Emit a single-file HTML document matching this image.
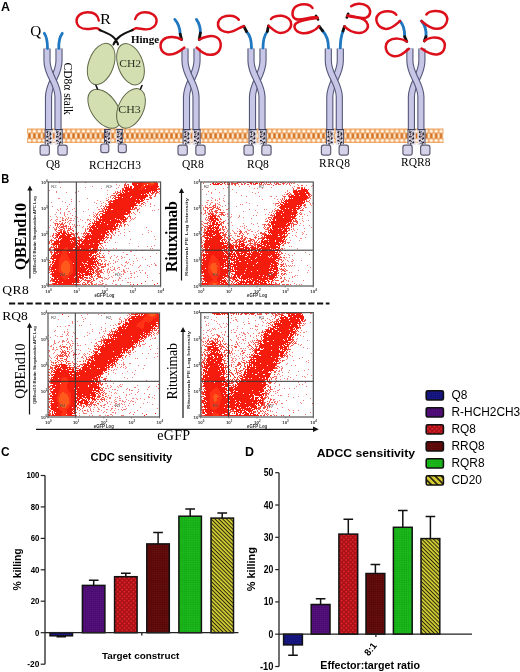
<!DOCTYPE html>
<html><head><meta charset="utf-8">
<style>
html,body{margin:0;padding:0;background:#fff;}
svg{display:block;filter:blur(0.35px);will-change:transform;}
text{font-family:"Liberation Sans",sans-serif;}
.sr{font-family:"Liberation Serif",serif;}
</style></head>
<body>
<svg width="520" height="672" viewBox="0 0 520 672">
<defs>
<pattern id="mem" x="27" y="128.6" width="4.9" height="14.5" patternUnits="userSpaceOnUse">
<rect width="4.9" height="14.5" fill="#efa460"/>
<rect x="-1.2" y="5.0" width="2.4" height="4.5" fill="#fde6c8"/><rect x="3.7" y="5.0" width="2.4" height="4.5" fill="#fde6c8"/>
<rect x="1.45" y="4.5" width="2.0" height="5.5" fill="#cf6c20"/>
<circle cx="2.45" cy="2.7" r="1.75" fill="#fff4e4"/>
<circle cx="2.45" cy="11.8" r="1.75" fill="#fff4e4"/>
</pattern>
<pattern id="pQ8" width="2" height="2" patternUnits="userSpaceOnUse"><rect width="2" height="2" fill="#141478"/><rect width="1" height="1" fill="#1c1c90"/></pattern>
<pattern id="pPU" width="2" height="2" patternUnits="userSpaceOnUse"><rect width="2" height="2" fill="#4c0c72"/><rect width="1" height="1" fill="#561480"/></pattern>
<pattern id="pRQ" width="3.2" height="3.2" patternUnits="userSpaceOnUse" patternTransform="rotate(45)"><rect width="3.2" height="3.2" fill="#a81218"/><rect width="1.6" height="1.6" fill="#e42428"/></pattern>
<pattern id="pRR" width="2.2" height="2.2" patternUnits="userSpaceOnUse"><rect width="2.2" height="2.2" fill="#580808"/><rect width="1.1" height="1.1" fill="#721212"/></pattern>
<pattern id="pGR" width="2.2" height="2.2" patternUnits="userSpaceOnUse"><rect width="2.2" height="2.2" fill="#16ac16"/><rect width="1.1" height="1.1" fill="#22c422"/></pattern>
<pattern id="pYE" width="2.75" height="2.75" patternUnits="userSpaceOnUse" patternTransform="rotate(45)"><rect width="2.75" height="2.75" fill="#d2ce36"/><rect width="2.75" height="1.0" fill="#2a2808"/></pattern>
<pattern id="pYL" width="4.4" height="4.4" patternUnits="userSpaceOnUse" patternTransform="translate(426 391) rotate(45)"><rect width="4.4" height="4.4" fill="#d8cc34"/><rect width="4.4" height="1.7" fill="#2a2608"/></pattern>
<filter id="sb" x="-5%" y="-5%" width="110%" height="110%"><feGaussianBlur stdDeviation="0.35"/></filter>
</defs>
<rect width="520" height="672" fill="#fff"/>
<text x="1.0" y="10.7" font-size="13" font-weight="bold" textLength="9" lengthAdjust="spacingAndGlyphs">A</text>
<rect x="27" y="128.5" width="416.5" height="14.5" fill="url(#mem)"/><path d="M59.0 48.5L59.0 61.0C59.0 75.0 48.5 83.0 48.5 97.0L48.5 129.0" fill="none" stroke="#545878" stroke-width="7.2"/><path d="M59.0 48.5L59.0 61.0C59.0 75.0 48.5 83.0 48.5 97.0L48.5 129.0" fill="none" stroke="#c8c6e6" stroke-width="5"/><path d="M47.0 48.5L47.0 61.0C47.0 75.0 58.0 83.0 58.0 97.0L58.0 129.0" fill="none" stroke="#545878" stroke-width="7.2"/><path d="M47.0 48.5L47.0 61.0C47.0 75.0 58.0 83.0 58.0 97.0L58.0 129.0" fill="none" stroke="#c8c6e6" stroke-width="5"/><rect x="44.8" y="129.3" width="8" height="15.9" fill="#e2e0f0" fill-opacity="0.85"/><path d="M45.2 129.3V144.2" stroke="#3c3c58" stroke-width="0.9"/><path d="M44.8 129.6H52.8" stroke="#3a4060" stroke-width="1.2"/><path d="M46.6 130.8L51.0 132.5L46.6 134.1L51.0 135.8L46.6 137.4L51.0 139.1L46.6 140.7L51.0 142.4L46.6 144.0" fill="none" stroke="#30304a" stroke-width="0.9" stroke-dasharray="1.1 0.9"/><circle cx="47.2" cy="132.2" r="0.9" fill="#1a1a2a"/><circle cx="50.6" cy="134.0" r="0.9" fill="#1a1a2a"/><circle cx="47.2" cy="136.4" r="0.9" fill="#1a1a2a"/><circle cx="50.6" cy="138.2" r="0.9" fill="#1a1a2a"/><circle cx="47.2" cy="140.6" r="0.9" fill="#1a1a2a"/><circle cx="50.6" cy="142.4" r="0.9" fill="#1a1a2a"/><path d="M48.0 142.7V145.2" stroke="#333" stroke-width="1"/><rect x="54.6" y="129.3" width="8" height="15.9" fill="#e2e0f0" fill-opacity="0.85"/><path d="M62.2 129.3V144.2" stroke="#3c3c58" stroke-width="0.9"/><path d="M54.6 129.6H62.6" stroke="#3a4060" stroke-width="1.2"/><path d="M56.4 130.8L60.8 132.5L56.4 134.1L60.8 135.8L56.4 137.4L60.8 139.1L56.4 140.7L60.8 142.4L56.4 144.0" fill="none" stroke="#30304a" stroke-width="0.9" stroke-dasharray="1.1 0.9"/><circle cx="57.0" cy="132.2" r="0.9" fill="#1a1a2a"/><circle cx="60.4" cy="134.0" r="0.9" fill="#1a1a2a"/><circle cx="57.0" cy="136.4" r="0.9" fill="#1a1a2a"/><circle cx="60.4" cy="138.2" r="0.9" fill="#1a1a2a"/><circle cx="57.0" cy="140.6" r="0.9" fill="#1a1a2a"/><circle cx="60.4" cy="142.4" r="0.9" fill="#1a1a2a"/><path d="M59.4 142.7V145.2" stroke="#333" stroke-width="1"/><rect x="40.1" y="145.2" width="9.3" height="10" rx="2.2" fill="#d6d2ea" stroke="#5e5e74" stroke-width="1.2"/><rect x="57.9" y="145.2" width="9.3" height="10" rx="2.2" fill="#d6d2ea" stroke="#5e5e74" stroke-width="1.2"/><path d="M47.5 48.5C47.5 42 46.8 37 44.3 33.3M58.8 48.5C58.6 42 59.5 37 62.3 33.3" fill="none" stroke="#1f78c0" stroke-width="2.8" stroke-linecap="round"/><text class="sr" x="30.3" y="36.0" font-size="14" textLength="11" lengthAdjust="spacingAndGlyphs">Q</text><text class="sr" transform="translate(64.3 62.5) rotate(90)" font-size="11.5">CD8&#945; stalk</text><text class="sr" x="46" y="167.5" font-size="11.5">Q8</text><ellipse cx="101.2" cy="64" rx="12.5" ry="21.5" transform="rotate(20 101.2 64)" fill="#d4dfb1" stroke="#5f6a4a" stroke-width="1"/><ellipse cx="130.5" cy="64.2" rx="12.5" ry="21.5" transform="rotate(-20 130.5 64.2)" fill="#d4dfb1" stroke="#5f6a4a" stroke-width="1"/><ellipse cx="104.4" cy="108.8" rx="13" ry="22" transform="rotate(-35 104.4 108.8)" fill="#d4dfb1" stroke="#5f6a4a" stroke-width="1"/><ellipse cx="131" cy="108.4" rx="12.5" ry="21" transform="rotate(25 131 108.4)" fill="#d4dfb1" stroke="#5f6a4a" stroke-width="1"/><path d="M96 85.5L97.5 89M142 85.5L140.5 89" fill="none" stroke="#111" stroke-width="1.6" stroke-linecap="round"/><text class="sr" x="119.2" y="66.8" font-size="10.8" fill="#2e3626" textLength="22" lengthAdjust="spacingAndGlyphs">CH2</text><text class="sr" x="118.2" y="113.2" font-size="10.8" fill="#2e3626" textLength="22.5" lengthAdjust="spacingAndGlyphs">CH3</text><path d="M98.8 20.5C98 16 94.5 12.3 88 12.3C81 12.3 76.5 16 76.5 21C76.8 26 81 29 87 29C91.5 29 95 27.6 97.5 28.3C98.5 28.7 99.2 29.3 99.7 30" fill="none" stroke="#dc0f1a" stroke-width="2.4" stroke-linecap="round"/><path d="M135.1 19C136.5 14.5 140 12.3 145 12.3C151 12.3 156.6 15.5 156.6 20.7C156.6 25.5 152 29.4 146.4 29.4C142 29.4 138.5 27.8 135.5 28.3C134.3 28.6 133.4 29.3 132.6 30" fill="none" stroke="#dc0f1a" stroke-width="2.4" stroke-linecap="round"/><path d="M99.7 30C104 32 108.5 33.5 112 36C115 38.3 117 40.5 118 44.5M132.6 30C128 32 124 33.5 120.5 35.8C117.3 38 115 40.5 113.5 44.5" fill="none" stroke="#111" stroke-width="2.1" stroke-linecap="round"/><text class="sr" x="100" y="23.5" font-size="15" textLength="11" lengthAdjust="spacingAndGlyphs">R</text><text class="sr" x="131" y="43.1" font-size="10.6" font-weight="bold" textLength="28.1" lengthAdjust="spacingAndGlyphs">Hinge</text><rect x="104.0" y="129.3" width="6.5" height="14.7" fill="#e2e0f0" fill-opacity="0.85"/><path d="M104.5 129.3V143.0" stroke="#3c3c58" stroke-width="0.9"/><path d="M104.0 129.6H110.5" stroke="#3a4060" stroke-width="1.2"/><path d="M105.1 130.8L109.5 132.5L105.1 134.1L109.5 135.8L105.1 137.4L109.5 139.1L105.1 140.7L109.5 142.4L105.1 144.0" fill="none" stroke="#30304a" stroke-width="0.9" stroke-dasharray="1.1 0.9"/><circle cx="105.7" cy="132.2" r="0.9" fill="#1a1a2a"/><circle cx="109.1" cy="134.0" r="0.9" fill="#1a1a2a"/><circle cx="105.7" cy="136.4" r="0.9" fill="#1a1a2a"/><circle cx="109.1" cy="138.2" r="0.9" fill="#1a1a2a"/><circle cx="105.7" cy="140.6" r="0.9" fill="#1a1a2a"/><circle cx="109.1" cy="142.4" r="0.9" fill="#1a1a2a"/><path d="M106.5 141.5V144.0" stroke="#333" stroke-width="1"/><rect x="116.2" y="129.3" width="6.5" height="14.7" fill="#e2e0f0" fill-opacity="0.85"/><path d="M122.3 129.3V143.0" stroke="#3c3c58" stroke-width="0.9"/><path d="M116.2 129.6H122.8" stroke="#3a4060" stroke-width="1.2"/><path d="M117.3 130.8L121.7 132.5L117.3 134.1L121.7 135.8L117.3 137.4L121.7 139.1L117.3 140.7L121.7 142.4L117.3 144.0" fill="none" stroke="#30304a" stroke-width="0.9" stroke-dasharray="1.1 0.9"/><circle cx="117.9" cy="132.2" r="0.9" fill="#1a1a2a"/><circle cx="121.3" cy="134.0" r="0.9" fill="#1a1a2a"/><circle cx="117.9" cy="136.4" r="0.9" fill="#1a1a2a"/><circle cx="121.3" cy="138.2" r="0.9" fill="#1a1a2a"/><circle cx="117.9" cy="140.6" r="0.9" fill="#1a1a2a"/><circle cx="121.3" cy="142.4" r="0.9" fill="#1a1a2a"/><path d="M120.3 141.5V144.0" stroke="#333" stroke-width="1"/><rect x="100.8" y="144.0" width="8" height="8.7" rx="2.2" fill="#d6d2ea" stroke="#5e5e74" stroke-width="1.2"/><rect x="118.3" y="144.0" width="8" height="8.7" rx="2.2" fill="#d6d2ea" stroke="#5e5e74" stroke-width="1.2"/><text class="sr" x="89" y="169" font-size="11.5" textLength="52">RCH2CH3</text><path d="M197.0 48.5L197.0 61.0C197.0 75.0 186.5 83.0 186.5 97.0L186.5 129.0" fill="none" stroke="#545878" stroke-width="7.2"/><path d="M197.0 48.5L197.0 61.0C197.0 75.0 186.5 83.0 186.5 97.0L186.5 129.0" fill="none" stroke="#c8c6e6" stroke-width="5"/><path d="M185.0 48.5L185.0 61.0C185.0 75.0 196.0 83.0 196.0 97.0L196.0 129.0" fill="none" stroke="#545878" stroke-width="7.2"/><path d="M185.0 48.5L185.0 61.0C185.0 75.0 196.0 83.0 196.0 97.0L196.0 129.0" fill="none" stroke="#c8c6e6" stroke-width="5"/><rect x="182.7" y="129.3" width="8" height="15.9" fill="#e2e0f0" fill-opacity="0.85"/><path d="M183.1 129.3V144.2" stroke="#3c3c58" stroke-width="0.9"/><path d="M182.7 129.6H190.7" stroke="#3a4060" stroke-width="1.2"/><path d="M184.5 130.8L188.9 132.5L184.5 134.1L188.9 135.8L184.5 137.4L188.9 139.1L184.5 140.7L188.9 142.4L184.5 144.0" fill="none" stroke="#30304a" stroke-width="0.9" stroke-dasharray="1.1 0.9"/><circle cx="185.1" cy="132.2" r="0.9" fill="#1a1a2a"/><circle cx="188.5" cy="134.0" r="0.9" fill="#1a1a2a"/><circle cx="185.1" cy="136.4" r="0.9" fill="#1a1a2a"/><circle cx="188.5" cy="138.2" r="0.9" fill="#1a1a2a"/><circle cx="185.1" cy="140.6" r="0.9" fill="#1a1a2a"/><circle cx="188.5" cy="142.4" r="0.9" fill="#1a1a2a"/><path d="M185.9 142.7V145.2" stroke="#333" stroke-width="1"/><rect x="192.5" y="129.3" width="8" height="15.9" fill="#e2e0f0" fill-opacity="0.85"/><path d="M200.1 129.3V144.2" stroke="#3c3c58" stroke-width="0.9"/><path d="M192.5 129.6H200.5" stroke="#3a4060" stroke-width="1.2"/><path d="M194.3 130.8L198.7 132.5L194.3 134.1L198.7 135.8L194.3 137.4L198.7 139.1L194.3 140.7L198.7 142.4L194.3 144.0" fill="none" stroke="#30304a" stroke-width="0.9" stroke-dasharray="1.1 0.9"/><circle cx="194.9" cy="132.2" r="0.9" fill="#1a1a2a"/><circle cx="198.3" cy="134.0" r="0.9" fill="#1a1a2a"/><circle cx="194.9" cy="136.4" r="0.9" fill="#1a1a2a"/><circle cx="198.3" cy="138.2" r="0.9" fill="#1a1a2a"/><circle cx="194.9" cy="140.6" r="0.9" fill="#1a1a2a"/><circle cx="198.3" cy="142.4" r="0.9" fill="#1a1a2a"/><path d="M197.3 142.7V145.2" stroke="#333" stroke-width="1"/><rect x="178.0" y="145.2" width="9.3" height="10" rx="2.2" fill="#d6d2ea" stroke="#5e5e74" stroke-width="1.2"/><rect x="195.8" y="145.2" width="9.3" height="10" rx="2.2" fill="#d6d2ea" stroke="#5e5e74" stroke-width="1.2"/><path d="M174.8 19.4C178 23 180 28 180.2 34.2M196.4 19.4C199 23 200.5 28 200.4 32.8" fill="none" stroke="#1f78c0" stroke-width="2.8" stroke-linecap="round"/><path d="M180.2 34.2L181.6 39.6M200.4 32.8L199.2 39.6" fill="none" stroke="#111" stroke-width="2.8" stroke-linecap="round"/><path d="M181.6 39.6C177 37 168 35.5 163.5 39.5C158.5 44 160 52 167 54.2C174 56 180 51 184.3 47.6" fill="none" stroke="#dc0f1a" stroke-width="2.5" stroke-linecap="round"/><path d="M199.2 39.6C203 37 212 34.5 217 37.5C222.5 41 222 51 215 54C208 56.5 201 52 196.8 47.6" fill="none" stroke="#dc0f1a" stroke-width="2.5" stroke-linecap="round"/><text class="sr" x="182" y="168" font-size="11.5">QR8</text><path d="M263.0 48.5L263.0 61.0C263.0 75.0 252.5 83.0 252.5 97.0L252.5 129.0" fill="none" stroke="#545878" stroke-width="7.2"/><path d="M263.0 48.5L263.0 61.0C263.0 75.0 252.5 83.0 252.5 97.0L252.5 129.0" fill="none" stroke="#c8c6e6" stroke-width="5"/><path d="M251.0 48.5L251.0 61.0C251.0 75.0 262.0 83.0 262.0 97.0L262.0 129.0" fill="none" stroke="#545878" stroke-width="7.2"/><path d="M251.0 48.5L251.0 61.0C251.0 75.0 262.0 83.0 262.0 97.0L262.0 129.0" fill="none" stroke="#c8c6e6" stroke-width="5"/><rect x="248.7" y="129.3" width="8" height="15.9" fill="#e2e0f0" fill-opacity="0.85"/><path d="M249.1 129.3V144.2" stroke="#3c3c58" stroke-width="0.9"/><path d="M248.7 129.6H256.7" stroke="#3a4060" stroke-width="1.2"/><path d="M250.5 130.8L254.9 132.5L250.5 134.1L254.9 135.8L250.5 137.4L254.9 139.1L250.5 140.7L254.9 142.4L250.5 144.0" fill="none" stroke="#30304a" stroke-width="0.9" stroke-dasharray="1.1 0.9"/><circle cx="251.1" cy="132.2" r="0.9" fill="#1a1a2a"/><circle cx="254.5" cy="134.0" r="0.9" fill="#1a1a2a"/><circle cx="251.1" cy="136.4" r="0.9" fill="#1a1a2a"/><circle cx="254.5" cy="138.2" r="0.9" fill="#1a1a2a"/><circle cx="251.1" cy="140.6" r="0.9" fill="#1a1a2a"/><circle cx="254.5" cy="142.4" r="0.9" fill="#1a1a2a"/><path d="M251.9 142.7V145.2" stroke="#333" stroke-width="1"/><rect x="258.5" y="129.3" width="8" height="15.9" fill="#e2e0f0" fill-opacity="0.85"/><path d="M266.1 129.3V144.2" stroke="#3c3c58" stroke-width="0.9"/><path d="M258.5 129.6H266.5" stroke="#3a4060" stroke-width="1.2"/><path d="M260.3 130.8L264.7 132.5L260.3 134.1L264.7 135.8L260.3 137.4L264.7 139.1L260.3 140.7L264.7 142.4L260.3 144.0" fill="none" stroke="#30304a" stroke-width="0.9" stroke-dasharray="1.1 0.9"/><circle cx="260.9" cy="132.2" r="0.9" fill="#1a1a2a"/><circle cx="264.3" cy="134.0" r="0.9" fill="#1a1a2a"/><circle cx="260.9" cy="136.4" r="0.9" fill="#1a1a2a"/><circle cx="264.3" cy="138.2" r="0.9" fill="#1a1a2a"/><circle cx="260.9" cy="140.6" r="0.9" fill="#1a1a2a"/><circle cx="264.3" cy="142.4" r="0.9" fill="#1a1a2a"/><path d="M263.3 142.7V145.2" stroke="#333" stroke-width="1"/><rect x="244.0" y="145.2" width="9.3" height="10" rx="2.2" fill="#d6d2ea" stroke="#5e5e74" stroke-width="1.2"/><rect x="261.8" y="145.2" width="9.3" height="10" rx="2.2" fill="#d6d2ea" stroke="#5e5e74" stroke-width="1.2"/><path d="M251.5 48C251.5 41 250 35 246.5 31.5M263 48C263 41 264.5 35 267.3 31.5" fill="none" stroke="#1f78c0" stroke-width="2.8" stroke-linecap="round"/><path d="M246.5 31.5L243.8 26.2M267.3 31.5L268.5 25.8" fill="none" stroke="#111" stroke-width="2.8" stroke-linecap="round"/><path d="M238.8 19.8C236 15.5 231 15.2 226 16C220 17 217.5 21.5 218 25C218.5 29.5 223 32.3 228.5 32.2C234.5 32 238.5 27.5 243.8 26.2" fill="none" stroke="#dc0f1a" stroke-width="2.5" stroke-linecap="round"/><path d="M271 19C273.5 16 278 15.5 282 15.8C288 16.5 291.5 20.5 291.2 24.5C290.8 29.5 286 33 280.5 33C275.5 33 272 28.5 268.5 25.8" fill="none" stroke="#dc0f1a" stroke-width="2.5" stroke-linecap="round"/><text class="sr" x="247" y="168" font-size="11.5">RQ8</text><path d="M340.3 48.5L340.3 61.0C340.3 75.0 329.8 83.0 329.8 97.0L329.8 129.0" fill="none" stroke="#545878" stroke-width="7.2"/><path d="M340.3 48.5L340.3 61.0C340.3 75.0 329.8 83.0 329.8 97.0L329.8 129.0" fill="none" stroke="#c8c6e6" stroke-width="5"/><path d="M328.3 48.5L328.3 61.0C328.3 75.0 339.3 83.0 339.3 97.0L339.3 129.0" fill="none" stroke="#545878" stroke-width="7.2"/><path d="M328.3 48.5L328.3 61.0C328.3 75.0 339.3 83.0 339.3 97.0L339.3 129.0" fill="none" stroke="#c8c6e6" stroke-width="5"/><rect x="326.0" y="129.3" width="8" height="15.9" fill="#e2e0f0" fill-opacity="0.85"/><path d="M326.4 129.3V144.2" stroke="#3c3c58" stroke-width="0.9"/><path d="M326.0 129.6H334.0" stroke="#3a4060" stroke-width="1.2"/><path d="M327.8 130.8L332.2 132.5L327.8 134.1L332.2 135.8L327.8 137.4L332.2 139.1L327.8 140.7L332.2 142.4L327.8 144.0" fill="none" stroke="#30304a" stroke-width="0.9" stroke-dasharray="1.1 0.9"/><circle cx="328.4" cy="132.2" r="0.9" fill="#1a1a2a"/><circle cx="331.8" cy="134.0" r="0.9" fill="#1a1a2a"/><circle cx="328.4" cy="136.4" r="0.9" fill="#1a1a2a"/><circle cx="331.8" cy="138.2" r="0.9" fill="#1a1a2a"/><circle cx="328.4" cy="140.6" r="0.9" fill="#1a1a2a"/><circle cx="331.8" cy="142.4" r="0.9" fill="#1a1a2a"/><path d="M329.2 142.7V145.2" stroke="#333" stroke-width="1"/><rect x="335.8" y="129.3" width="8" height="15.9" fill="#e2e0f0" fill-opacity="0.85"/><path d="M343.4 129.3V144.2" stroke="#3c3c58" stroke-width="0.9"/><path d="M335.8 129.6H343.8" stroke="#3a4060" stroke-width="1.2"/><path d="M337.6 130.8L342.0 132.5L337.6 134.1L342.0 135.8L337.6 137.4L342.0 139.1L337.6 140.7L342.0 142.4L337.6 144.0" fill="none" stroke="#30304a" stroke-width="0.9" stroke-dasharray="1.1 0.9"/><circle cx="338.2" cy="132.2" r="0.9" fill="#1a1a2a"/><circle cx="341.6" cy="134.0" r="0.9" fill="#1a1a2a"/><circle cx="338.2" cy="136.4" r="0.9" fill="#1a1a2a"/><circle cx="341.6" cy="138.2" r="0.9" fill="#1a1a2a"/><circle cx="338.2" cy="140.6" r="0.9" fill="#1a1a2a"/><circle cx="341.6" cy="142.4" r="0.9" fill="#1a1a2a"/><path d="M340.6 142.7V145.2" stroke="#333" stroke-width="1"/><rect x="321.4" y="145.2" width="9.3" height="10" rx="2.2" fill="#d6d2ea" stroke="#5e5e74" stroke-width="1.2"/><rect x="339.1" y="145.2" width="9.3" height="10" rx="2.2" fill="#d6d2ea" stroke="#5e5e74" stroke-width="1.2"/><path d="M328.5 48C328.5 41 326.5 35 322.6 30.8M340.3 48C340.3 41 341.5 35 343 31" fill="none" stroke="#1f78c0" stroke-width="2.8" stroke-linecap="round"/><path d="M322.6 30.8L319 26.2M343 31L344.5 26.4" fill="none" stroke="#111" stroke-width="2.8" stroke-linecap="round"/><path d="M316 15.8L318 19.5M348.2 13.8L346.8 17.5" fill="none" stroke="#111" stroke-width="2.6" stroke-linecap="round"/><path d="M319 26.2C315 31 308 34 301.5 33C295 32 292.5 26 296.5 23C300.5 20 309 19 317.5 18" fill="none" stroke="#dc0f1a" stroke-width="2.5" stroke-linecap="round"/><path d="M317.5 17.5C311 15.5 301 21.5 295.5 19C291 16.5 291.5 8 298 5.3C304 3 310.5 4.5 312.5 8" fill="none" stroke="#dc0f1a" stroke-width="2.5" stroke-linecap="round"/><path d="M344.5 26.4C348 30 353 33 359.2 33C365 33 369 28.5 367.7 24.5C366.5 20.5 362 18 357 17.5C353 17 350 16.5 347.5 15.8" fill="none" stroke="#dc0f1a" stroke-width="2.5" stroke-linecap="round"/><path d="M347.5 15.8C353 15 360 19.5 366 17.7C370.5 16 372 10 367 6C362.5 2.5 355 3.3 351.2 6.2" fill="none" stroke="#dc0f1a" stroke-width="2.5" stroke-linecap="round"/><text class="sr" x="319" y="167" font-size="11.5" textLength="31">RRQ8</text><path d="M421.9 48.5L421.9 61.0C421.9 75.0 411.4 83.0 411.4 97.0L411.4 129.0" fill="none" stroke="#545878" stroke-width="7.2"/><path d="M421.9 48.5L421.9 61.0C421.9 75.0 411.4 83.0 411.4 97.0L411.4 129.0" fill="none" stroke="#c8c6e6" stroke-width="5"/><path d="M409.9 48.5L409.9 61.0C409.9 75.0 420.9 83.0 420.9 97.0L420.9 129.0" fill="none" stroke="#545878" stroke-width="7.2"/><path d="M409.9 48.5L409.9 61.0C409.9 75.0 420.9 83.0 420.9 97.0L420.9 129.0" fill="none" stroke="#c8c6e6" stroke-width="5"/><rect x="407.6" y="129.3" width="8" height="15.9" fill="#e2e0f0" fill-opacity="0.85"/><path d="M408.0 129.3V144.2" stroke="#3c3c58" stroke-width="0.9"/><path d="M407.6 129.6H415.6" stroke="#3a4060" stroke-width="1.2"/><path d="M409.4 130.8L413.8 132.5L409.4 134.1L413.8 135.8L409.4 137.4L413.8 139.1L409.4 140.7L413.8 142.4L409.4 144.0" fill="none" stroke="#30304a" stroke-width="0.9" stroke-dasharray="1.1 0.9"/><circle cx="410.0" cy="132.2" r="0.9" fill="#1a1a2a"/><circle cx="413.4" cy="134.0" r="0.9" fill="#1a1a2a"/><circle cx="410.0" cy="136.4" r="0.9" fill="#1a1a2a"/><circle cx="413.4" cy="138.2" r="0.9" fill="#1a1a2a"/><circle cx="410.0" cy="140.6" r="0.9" fill="#1a1a2a"/><circle cx="413.4" cy="142.4" r="0.9" fill="#1a1a2a"/><path d="M410.8 142.7V145.2" stroke="#333" stroke-width="1"/><rect x="417.4" y="129.3" width="8" height="15.9" fill="#e2e0f0" fill-opacity="0.85"/><path d="M425.0 129.3V144.2" stroke="#3c3c58" stroke-width="0.9"/><path d="M417.4 129.6H425.4" stroke="#3a4060" stroke-width="1.2"/><path d="M419.2 130.8L423.6 132.5L419.2 134.1L423.6 135.8L419.2 137.4L423.6 139.1L419.2 140.7L423.6 142.4L419.2 144.0" fill="none" stroke="#30304a" stroke-width="0.9" stroke-dasharray="1.1 0.9"/><circle cx="419.8" cy="132.2" r="0.9" fill="#1a1a2a"/><circle cx="423.2" cy="134.0" r="0.9" fill="#1a1a2a"/><circle cx="419.8" cy="136.4" r="0.9" fill="#1a1a2a"/><circle cx="423.2" cy="138.2" r="0.9" fill="#1a1a2a"/><circle cx="419.8" cy="140.6" r="0.9" fill="#1a1a2a"/><circle cx="423.2" cy="142.4" r="0.9" fill="#1a1a2a"/><path d="M422.2 142.7V145.2" stroke="#333" stroke-width="1"/><rect x="402.9" y="145.2" width="9.3" height="10" rx="2.2" fill="#d6d2ea" stroke="#5e5e74" stroke-width="1.2"/><rect x="420.6" y="145.2" width="9.3" height="10" rx="2.2" fill="#d6d2ea" stroke="#5e5e74" stroke-width="1.2"/><path d="M400 21C403.5 25 404.8 31 404.6 36.5M421.5 21C425 25 426.5 31 426 36.6" fill="none" stroke="#1f78c0" stroke-width="2.8" stroke-linecap="round"/><path d="M404.6 36.5L406.8 41.5M426 36.6L424.3 41" fill="none" stroke="#111" stroke-width="2.8" stroke-linecap="round"/><path d="M396.3 14.7C393 10.5 383 10 378.5 14.5C374 19 377 27 385 28.8C391 30 396.5 24 400 21" fill="none" stroke="#dc0f1a" stroke-width="2.5" stroke-linecap="round"/><path d="M406.8 41.5C402 38 393 37.5 388.5 41C384 45 385 54 393 56C399 57.5 404 53 408.8 48.8" fill="none" stroke="#dc0f1a" stroke-width="2.5" stroke-linecap="round"/><path d="M426.4 14.5C429 10.5 440 9.5 445 14C450 19 446 28 438 28.8C431 29.5 425 24 421.5 21" fill="none" stroke="#dc0f1a" stroke-width="2.5" stroke-linecap="round"/><path d="M424.3 41C428 37.5 437 36 442 39.5C447 43.5 445 53 438 54.3C431 55.5 426 52 421.5 48.6" fill="none" stroke="#dc0f1a" stroke-width="2.5" stroke-linecap="round"/><text class="sr" x="401" y="166" font-size="11.5" textLength="29.5">RQR8</text><g shape-rendering="crispEdges" filter="url(#sb)"><path d="M116 182.5h1m9 0h1M116 184.5h1M119 185.5h1M92 186.5h1m18 0h1M60 187.5h1m24 0h1m32 0h1M101 188.5h1m14 0h1M49 190.5h1m57 0h1M56 191.5h1m21 0h1m36 0h1M56 192.5h1m9 0h1m8 0h1M159 193.5h1M107 194.5h1M111 195.5h1M110 196.5h1m44 0h1M108 197.5h1m1 0h1M58 198.5h2m27 0h1m18 0h1M71 199.5h1M97 200.5h1m8 0h1M62 201.5h1m8 0h1m7 0h1m20 0h1m46 0h1M51 202.5h1m13 0h1m28 0h1m8 0h1M96 203.5h1m4 0h1m3 0h1m39 0h1m4 0h1M69 204.5h1m80 0h1M101 205.5h1m43 0h1m8 0h1M52 206.5h1m14 0h1m32 0h1m40 0h1m8 0h1M97 207.5h1M60 208.5h1m6 0h1m6 0h1m64 0h1M57 209.5h1m2 0h1m5 0h1m5 0h1m15 0h1m9 0h2m58 0h1M58 210.5h1m93 0h1m1 0h1M68 211.5h2m5 0h1m7 0h1m53 0h1M48 212.5h1m7 0h1m3 0h1m3 0h1m28 0h1m45 0h1M60 213.5h1m3 0h1m5 0h1m24 0h1m38 0h1M55 214.5h1m8 0h1m2 0h1m25 0h1m41 0h1M48 215.5h1m15 0h1m7 0h1m16 0h1M50 216.5h1m5 0h1m8 0h1m9 0h1m17 0h1M57 217.5h1m2 0h1m1 0h1m5 0h1m8 0h1m57 0h1M48 218.5h1m13 0h2m2 0h1m1 0h1m1 0h2m2 0h1m57 0h1m1 0h1M51 219.5h1m4 0h2m4 0h1m4 0h1m12 0h1m6 0h2m1 0h1m40 0h1m1 0h1M50 220.5h1m4 0h1m13 0h3m1 0h1m8 0h1m4 0h1m1 0h1m40 0h1M48 221.5h1m7 0h1m2 0h1m8 0h1m9 0h1m50 0h1M53 222.5h1m13 0h1m2 0h1m5 0h1m8 0h1M54 223.5h1m14 0h1M69 224.5h1m2 0h1m1 0h1m1 0h1m50 0h1M50 225.5h1m23 0h1m2 0h1m1 0h1m48 0h1M48 226.5h1m24 0h1m1 0h1m7 0h1m40 0h1M49 227.5h1m3 0h1m21 0h1m6 0h1m63 0h1M54 228.5h1m30 0h1M54 229.5h1m69 0h1M148 230.5h1M48 231.5h1m69 0h2m9 0h1m21 0h1M78 232.5h1m45 0h1m23 0h1M48 233.5h1m32 0h1m33 0h1m4 0h1M142 234.5h1M114 235.5h1m3 0h1m5 0h1M48 236.5h1m1 0h1m103 0h1M111 237.5h1M110 238.5h2M48 239.5h1m81 0h1m24 0h1M109 240.5h1M107 242.5h1m7 0h1M129 243.5h1M48 244.5h1M105 245.5h1m48 0h1M138 246.5h1m8 0h1m3 0h1M103 247.5h1M103 248.5h1m2 0h1m6 0h1m2 0h1m33 0h1m1 0h1M104 250.5h1m31 0h1m5 0h1M108 251.5h2m20 0h2M123 252.5h1M103 253.5h1m4 0h1m47 0h1M48 254.5h1m77 0h2M104 255.5h1m9 0h1m19 0h1M111 256.5h1m5 0h1m3 0h1m28 0h1M110 257.5h1m5 0h1m5 0h1m1 0h1m17 0h1M110 258.5h1m10 0h1m14 0h1M104 259.5h1m13 0h1m10 0h1m15 0h1M105 260.5h2m6 0h1m23 0h1M109 261.5h1m5 0h1m1 0h1m8 0h1m6 0h1M115 262.5h1m9 0h2m1 0h1M108 263.5h1m1 0h1m2 0h1m13 0h1m5 0h1m20 0h1M108 264.5h1m12 0h1m8 0h1m20 0h1m3 0h1M108 265.5h1m13 0h1m2 0h1m6 0h1m7 0h1m6 0h1m7 0h2M112 266.5h1m11 0h1m14 0h1m9 0h1M110 267.5h1m3 0h1m3 0h2m18 0h1M108 268.5h1m5 0h1m2 0h1m8 0h1m1 0h1M107 269.5h2m1 0h1m2 0h2m4 0h1m3 0h1M107 270.5h1m3 0h2m2 0h1m7 0h2m14 0h1m2 0h1M104 271.5h1m2 0h1m1 0h1m11 0h1m1 0h2m2 0h1m2 0h1m5 0h1M107 272.5h1m1 0h1m3 0h1m4 0h1m5 0h2m8 0h1m5 0h1m4 0h1M103 273.5h1m4 0h1m14 0h1m6 0h2m2 0h1m10 0h1m13 0h1M115 274.5h1m5 0h1m1 0h1M108 275.5h1m4 0h1m17 0h1m15 0h1M111 276.5h1m9 0h1m15 0h1M48 277.5h1m53 0h1m1 0h1m4 0h1m2 0h1m6 0h1m10 0h2m2 0h1m12 0h1M102 278.5h1m2 0h2m1 0h1m10 0h2m4 0h1m2 0h1M48 279.5h1m47 0h1m7 0h1m2 0h1m10 0h1M101 280.5h2m10 0h1m1 0h1m2 0h1m3 0h1m29 0h1M99 281.5h1m2 0h1m10 0h1M100 282.5h1m26 0h2m1 0h1M96 283.5h1m5 0h2m8 0h1M95 284.5h2m1 0h5m2 0h2m8 0h2m3 0h1" stroke="#ec5e58" stroke-opacity="0.8" fill="none"/><path d="M85 182.5h1m44 0h1M125 183.5h1M124 184.5h2m1 0h2M124 185.5h3m1 0h1M124 186.5h1M122 188.5h2m34 0h2M122 189.5h1m35 0h2M120 190.5h1m1 0h1M117 191.5h1m2 0h1m34 0h3m1 0h1M115 192.5h1m1 0h4m33 0h1m1 0h3M113 193.5h2m1 0h2m34 0h2m1 0h2M116 194.5h1m1 0h1m33 0h1m2 0h1M112 195.5h4m1 0h1m31 0h3m3 0h1M114 196.5h2m34 0h1m3 0h1M113 197.5h1m1 0h1m33 0h3M112 198.5h1m1 0h1m35 0h2M108 199.5h1m37 0h3M107 200.5h1m2 0h2M108 201.5h3m31 0h1M108 202.5h2m33 0h2M139 203.5h1m1 0h2M106 204.5h1m1 0h1m32 0h1m1 0h1M105 205.5h1m31 0h1m1 0h2M103 206.5h1m1 0h3M104 207.5h1m1 0h1m28 0h2M101 208.5h1m1 0h2m29 0h3M102 209.5h1m1 0h1m27 0h3m2 0h2M102 210.5h2m33 0h1M99 211.5h5M98 212.5h1m31 0h1m2 0h1M97 213.5h1m2 0h2m27 0h1m1 0h1M96 214.5h2m1 0h1m29 0h1M94 215.5h1m1 0h1m2 0h1m29 0h1M95 216.5h1m1 0h1m30 0h3M94 217.5h1m1 0h2m29 0h1m2 0h1M96 218.5h2m28 0h2m2 0h1M65 219.5h1m27 0h1m2 0h1m29 0h1M62 220.5h2m1 0h1m28 0h1m1 0h1m28 0h1M60 221.5h1m29 0h1m3 0h1m29 0h3M62 222.5h1m2 0h1m26 0h1m28 0h1m1 0h2M55 223.5h3m1 0h1m1 0h2m1 0h1m24 0h2m1 0h1m27 0h2m1 0h1M55 224.5h1m1 0h2m1 0h4m24 0h2m28 0h1m1 0h1m3 0h2M55 225.5h1m1 0h1m2 0h1m2 0h1m1 0h2m23 0h1m28 0h3m2 0h1M57 226.5h1m1 0h1m1 0h6m1 0h1m1 0h1m16 0h1m1 0h1m27 0h1m1 0h1m1 0h1M56 227.5h1m1 0h1m1 0h4m2 0h1m3 0h1m18 0h1m29 0h1M56 228.5h1m2 0h1m3 0h2m1 0h1m1 0h3m1 0h1m14 0h2m27 0h2M55 229.5h2m3 0h3m1 0h1m3 0h1m1 0h2m13 0h1m1 0h1m27 0h1m2 0h1M55 230.5h1m2 0h4m1 0h2m2 0h3m2 0h2m11 0h1m29 0h1M56 231.5h1m3 0h1m3 0h2m1 0h1m5 0h1m11 0h1m2 0h1m23 0h1M57 232.5h2m8 0h2m1 0h2m4 0h1m7 0h1m1 0h1m24 0h2m2 0h1M53 233.5h1m1 0h2m14 0h3m1 0h3m5 0h4m22 0h1m2 0h1M53 234.5h1m2 0h1m15 0h3m1 0h2m5 0h1m1 0h1m22 0h1m1 0h1m2 0h1M52 235.5h2m1 0h2m16 0h2m1 0h1m7 0h1m22 0h2m2 0h1M52 236.5h1m3 0h1m17 0h1m1 0h1m1 0h1m3 0h2m27 0h1M53 237.5h1m1 0h2m18 0h1m1 0h3m3 0h1m22 0h3m1 0h1M54 238.5h2m22 0h2m1 0h1m25 0h1M51 239.5h1m27 0h3m24 0h1M50 240.5h4m49 0h1m1 0h1M48 241.5h2m1 0h1m50 0h1m1 0h1M49 242.5h1m1 0h1m52 0h2M48 243.5h2m2 0h1m48 0h2M51 244.5h2m47 0h1M53 245.5h1m47 0h1M51 246.5h1m1 0h1m48 0h1M50 247.5h4m45 0h2M49 248.5h2m50 0h1M48 249.5h3m2 0h1m43 0h2m1 0h1M49 250.5h1m48 0h1m1 0h1M50 251.5h2m45 0h1m2 0h1M50 252.5h3m43 0h1m2 0h1M51 253.5h1m45 0h1m1 0h2M51 254.5h1m44 0h3M96 255.5h1m2 0h1m2 0h1M51 256.5h1m45 0h3m3 0h1M96 257.5h1m2 0h6M50 258.5h1M97 259.5h1m1 0h2M49 260.5h1m48 0h1m2 0h1M50 261.5h1m50 0h1m2 0h1M48 262.5h3m47 0h1M98 263.5h3m1 0h1m2 0h1M48 264.5h1m1 0h1m47 0h1m1 0h3m1 0h2m1 0h1M48 265.5h1m1 0h1m45 0h1m1 0h3m4 0h1M49 266.5h2m45 0h2m3 0h5M49 267.5h2m43 0h2m1 0h2m2 0h3M48 268.5h2m44 0h2m1 0h3M48 269.5h3m45 0h3m2 0h1m1 0h1M49 270.5h1m45 0h3m1 0h3M48 271.5h1m1 0h1m44 0h7M48 272.5h2m44 0h1m1 0h3m1 0h3M48 273.5h1m2 0h1m43 0h1m1 0h3M50 274.5h2m44 0h4M95 275.5h1m1 0h2m1 0h1M90 276.5h3m1 0h1m2 0h4M50 277.5h1m35 0h2m1 0h1m1 0h2m5 0h4M51 278.5h1m29 0h3m2 0h2m1 0h2m2 0h1m2 0h2M51 279.5h2m29 0h2m1 0h1m5 0h1m1 0h1M50 280.5h3m26 0h1m1 0h1m2 0h7m2 0h2M50 281.5h1m1 0h1m27 0h1m6 0h3m1 0h2m52 0h1M79 282.5h1m3 0h2m2 0h2m1 0h2M48 283.5h1m3 0h1m29 0h1m2 0h1m1 0h1m3 0h2M48 284.5h5m25 0h3m1 0h5m1 0h2m1 0h2m1 0h1m35 0h1" stroke="#f03a30" stroke-opacity="0.9" fill="none"/><path d="M59 182.5h1m72 0h13m10 0h2M132 183.5h11m12 0h3M132 184.5h5m1 0h4m13 0h3M133 185.5h9m5 0h2m4 0h5M126 186.5h1m1 0h1m1 0h2m2 0h7m4 0h14M124 187.5h5m1 0h2m2 0h7m3 0h14M125 188.5h7m1 0h7m3 0h2m1 0h11M123 189.5h1m1 0h15m2 0h16M123 190.5h34M122 191.5h1m1 0h4m1 0h22m1 0h1m1 0h1M122 192.5h2m1 0h24m1 0h1m1 0h2M120 193.5h2m1 0h23m1 0h2m2 0h1M119 194.5h22m1 0h2m1 0h2m2 0h1M118 195.5h30M118 196.5h1m1 0h11m1 0h16M116 197.5h6m1 0h7m1 0h15M115 198.5h1m2 0h27M115 199.5h21m1 0h2m1 0h3m1 0h1M113 200.5h27m1 0h3M111 201.5h31M110 202.5h1m2 0h22m1 0h4M109 203.5h28m1 0h1M109 204.5h27M109 205.5h28M108 206.5h26M107 207.5h24m1 0h2M106 208.5h1m1 0h23m1 0h1M105 209.5h6m2 0h19M105 210.5h1m1 0h23M105 211.5h26M103 212.5h23m1 0h3M102 213.5h1m2 0h24M102 214.5h26M102 215.5h22M100 216.5h25M100 217.5h26M98 218.5h1m1 0h1m1 0h13m1 0h8m1 0h1M98 219.5h19m1 0h1m1 0h6M99 220.5h11m1 0h9m1 0h1m1 0h2M95 221.5h6m1 0h19m1 0h2M94 222.5h1m1 0h8m1 0h16M93 223.5h7m1 0h15m1 0h1M93 224.5h1m1 0h12m1 0h7m1 0h2M92 225.5h23m1 0h2M91 226.5h4m1 0h21M90 227.5h23m1 0h2M90 228.5h1m1 0h5m1 0h18M89 229.5h3m1 0h22M89 230.5h19m2 0h2m1 0h1M61 231.5h1m1 0h1m25 0h17m1 0h2m1 0h2M59 232.5h3m1 0h3m25 0h18M58 233.5h2m1 0h6m1 0h1m18 0h3m1 0h16M57 234.5h3m2 0h3m1 0h6m15 0h2m1 0h1m1 0h9m1 0h3m1 0h2M57 235.5h2m1 0h6m1 0h4m15 0h19M57 236.5h1m1 0h13m13 0h20m1 0h1M57 237.5h1m1 0h11m2 0h3m9 0h20m1 0h1M58 238.5h3m1 0h14m9 0h5m1 0h14M56 239.5h1m1 0h1m2 0h15m6 0h1m1 0h4m1 0h9m1 0h3m1 0h1M56 240.5h3m1 0h10m1 0h1m1 0h3m1 0h5m1 0h20M54 241.5h19m1 0h3m1 0h2m1 0h19M54 242.5h17m1 0h4m1 0h1m1 0h1m2 0h18M53 243.5h6m1 0h20m1 0h12m1 0h4m1 0h2M53 244.5h24m1 0h5m1 0h5m1 0h9M54 245.5h1m1 0h1m1 0h20m1 0h20M55 246.5h2m1 0h17m1 0h22M54 247.5h1m1 0h1m1 0h8m2 0h30M54 248.5h10m4 0h5m2 0h5m1 0h10m2 0h5M54 249.5h10m4 0h21m1 0h1m1 0h5M54 250.5h9m5 0h29M54 251.5h1m1 0h6m5 0h30M54 252.5h8m5 0h2m1 0h26M54 253.5h4m1 0h3m5 0h22m1 0h4m1 0h1M53 254.5h3m1 0h4m6 0h25M52 255.5h9m7 0h24m1 0h3M52 256.5h9m7 0h21m1 0h1m1 0h2m1 0h1M51 257.5h1m1 0h7m9 0h21m1 0h3m1 0h1M51 258.5h9m9 0h28M52 259.5h2m2 0h3m11 0h26M53 260.5h6m12 0h22m1 0h1m1 0h1M52 261.5h2m1 0h4m13 0h15m1 0h10M52 262.5h7m13 0h10m1 0h13m1 0h1M52 263.5h1m1 0h5m13 0h1m1 0h9m1 0h1m2 0h7m1 0h1m1 0h1M51 264.5h1m1 0h6m13 0h15m1 0h9M52 265.5h7m14 0h11m1 0h6m1 0h1m2 0h1M52 266.5h7m14 0h7m1 0h14M51 267.5h8m14 0h12m1 0h6m1 0h1M51 268.5h8m14 0h15m1 0h4M51 269.5h4m1 0h2m15 0h14m1 0h6M51 270.5h1m1 0h5m15 0h13m1 0h2m1 0h1m1 0h2M51 271.5h8m14 0h19m1 0h1M52 272.5h1m1 0h5m14 0h5m1 0h10m1 0h1m1 0h2M52 273.5h8m12 0h8m1 0h2m2 0h7m1 0h1M52 274.5h8m11 0h10m1 0h11M52 275.5h9m9 0h8m1 0h5m1 0h3m1 0h1m1 0h1M52 276.5h9m8 0h6m1 0h5m1 0h2M54 277.5h8m6 0h6m1 0h8m1 0h2M52 278.5h1m1 0h3m1 0h5m4 0h1m1 0h10m1 0h1M53 279.5h11m2 0h13M53 280.5h2m1 0h2m1 0h20M53 281.5h26M55 282.5h7m1 0h13m1 0h2M53 283.5h4m1 0h14m1 0h1m2 0h1m64 0h1m15 0h1M53 284.5h25m55 0h1m3 0h1m16 0h1" stroke="#f61c0c" stroke-opacity="1.0" fill="none"/><path d="M145 182.5h5m3 0h2M143 183.5h7m4 0h1M142 184.5h5m1 0h7M142 185.5h2m1 0h2m2 0h4M141 186.5h4M141 187.5h3M140 188.5h3M140 189.5h2M66 247.5h2M64 248.5h4M64 249.5h4M63 250.5h5M62 251.5h5M62 252.5h5M62 253.5h5M61 254.5h6M61 255.5h7M61 256.5h7M60 257.5h9M60 258.5h9M59 259.5h11M59 260.5h6m1 0h5M59 261.5h5m4 0h4M59 262.5h4m6 0h3M59 263.5h3m7 0h3M59 264.5h3m8 0h2M59 265.5h2m9 0h3M59 266.5h2m9 0h3M59 267.5h2m9 0h3M59 268.5h2m9 0h3M58 269.5h3m9 0h3M58 270.5h3m9 0h3M59 271.5h3m8 0h3M59 272.5h4m6 0h4M60 273.5h3m6 0h3M60 274.5h4m4 0h3M61 275.5h4m1 0h4M61 276.5h8M62 277.5h6M63 278.5h4M64 279.5h2" stroke="#ff3212" stroke-opacity="1.0" fill="none"/><path d="M150 182.5h3M150 183.5h4M65 260.5h1M64 261.5h4M63 262.5h6M62 263.5h7M62 264.5h8M61 265.5h9M61 266.5h9M61 267.5h9M61 268.5h9M61 269.5h9M61 270.5h9M62 271.5h8M63 272.5h6M63 273.5h6M64 274.5h4M65 275.5h1" stroke="#ff5a1c" stroke-opacity="1.0" fill="none"/></g><path d="M76.3 182.0V286.0M48.3 250.2H160.6" stroke="#333" stroke-width="1" fill="none"/><rect x="48.3" y="182.0" width="112.3" height="104.0" fill="none" stroke="#555" stroke-width="1.2"/><g font-size="4.2" fill="#555"><text x="51.3" y="188.0">R2</text><text x="106.3" y="188.0">R2</text><text x="60.3" y="276.0">R4</text><text x="115.3" y="276.0">R3</text></g><g font-size="4.4" fill="#333" font-weight="bold"><text x="45.3" y="292.6">10<tspan dy="-1.6" font-size="2.9">0</tspan></text><text x="41.0" y="287.8">10<tspan dy="-1.6" font-size="2.9">0</tspan></text><line x1="48.3" y1="286.0" x2="48.3" y2="287.5" stroke="#555" stroke-width="0.6"/><line x1="46.8" y1="286.0" x2="48.3" y2="286.0" stroke="#555" stroke-width="0.6"/><text x="73.4" y="292.6">10<tspan dy="-1.6" font-size="2.9">1</tspan></text><text x="41.0" y="261.8">10<tspan dy="-1.6" font-size="2.9">1</tspan></text><line x1="76.4" y1="286.0" x2="76.4" y2="287.5" stroke="#555" stroke-width="0.6"/><line x1="46.8" y1="260.0" x2="48.3" y2="260.0" stroke="#555" stroke-width="0.6"/><text x="101.4" y="292.6">10<tspan dy="-1.6" font-size="2.9">2</tspan></text><text x="41.0" y="235.8">10<tspan dy="-1.6" font-size="2.9">2</tspan></text><line x1="104.4" y1="286.0" x2="104.4" y2="287.5" stroke="#555" stroke-width="0.6"/><line x1="46.8" y1="234.0" x2="48.3" y2="234.0" stroke="#555" stroke-width="0.6"/><text x="129.5" y="292.6">10<tspan dy="-1.6" font-size="2.9">3</tspan></text><text x="41.0" y="209.8">10<tspan dy="-1.6" font-size="2.9">3</tspan></text><line x1="132.5" y1="286.0" x2="132.5" y2="287.5" stroke="#555" stroke-width="0.6"/><line x1="46.8" y1="208.0" x2="48.3" y2="208.0" stroke="#555" stroke-width="0.6"/><text x="157.6" y="292.6">10<tspan dy="-1.6" font-size="2.9">4</tspan></text><text x="41.0" y="183.8">10<tspan dy="-1.6" font-size="2.9">4</tspan></text><line x1="160.6" y1="286.0" x2="160.6" y2="287.5" stroke="#555" stroke-width="0.6"/><line x1="46.8" y1="182.0" x2="48.3" y2="182.0" stroke="#555" stroke-width="0.6"/></g><text x="104.4" y="296.6" font-size="4.6" font-weight="bold" fill="#2a2a2a" text-anchor="middle" textLength="20" lengthAdjust="spacingAndGlyphs">eGFP Log</text><g shape-rendering="crispEdges" filter="url(#sb)"><path d="M292 182.5h1m1 0h1m4 0h1M293 183.5h2M297 184.5h1M290 185.5h1m7 0h1m7 0h1m5 0h1M239 186.5h1m9 0h1m44 0h1m16 0h1M206 187.5h1m20 0h1m43 0h1m20 0h1M223 188.5h1m30 0h1m2 0h1m4 0h1M202 189.5h1m12 0h1m16 0h1M287 190.5h1M208 191.5h1m78 0h1M211 192.5h1m7 0h1m16 0h1m15 0h1m5 0h1m26 0h1M211 193.5h1m43 0h1M206 194.5h1m77 0h1M224 195.5h1m16 0h1m40 0h1M246 196.5h1m12 0h1m10 0h2m4 0h1M211 197.5h1M212 198.5h1m6 0h1m3 0h1m50 0h1M215 199.5h1m3 0h1m42 0h1m14 0h1m2 0h1M207 200.5h2m2 0h1m3 0h1m1 0h1m5 0h1M224 201.5h1M206 202.5h2m3 0h2m6 0h1m26 0h1m62 0h1M210 203.5h1m4 0h1m1 0h1m10 0h1m20 0h1m23 0h1m1 0h1m34 0h1m1 0h1M207 204.5h1m2 0h1m7 0h2m20 0h1m1 0h1m32 0h1m34 0h1M202 205.5h1m2 0h1m14 0h1m4 0h1m31 0h1m17 0h1m35 0h1M205 206.5h1m16 0h1m13 0h1M203 207.5h1m102 0h1M203 208.5h1m24 0h1m46 0h1M203 209.5h1m22 0h2m21 0h1m14 0h1m1 0h1m7 0h1M204 210.5h1m18 0h1m31 0h1m16 0h1m30 0h1M243 211.5h1m28 0h1m36 0h1M201 212.5h1m55 0h1m11 0h1m1 0h1m38 0h1M201 213.5h1m2 0h2m21 0h1m73 0h1M203 214.5h1m21 0h1m1 0h1m3 0h1m33 0h1m2 0h1m32 0h1m2 0h1M239 215.5h1m13 0h1m2 0h1m50 0h1M227 216.5h1m3 0h1m7 0h1m59 0h1m2 0h1M230 217.5h1m7 0h1m4 0h1M205 218.5h1m45 0h1m14 0h1m35 0h1M228 219.5h1m36 0h1m33 0h1M225 220.5h1m76 0h1m5 0h1M201 221.5h2m62 0h1m37 0h1M203 222.5h1m27 0h1M201 223.5h1m25 0h2m14 0h1m7 0h1m5 0h1m42 0h1M201 224.5h2m50 0h1m8 0h2M228 225.5h1m3 0h1m11 0h1m54 0h1m3 0h1m5 0h1M240 226.5h1m1 0h1m3 0h1m11 0h1M201 227.5h1m42 0h1m18 0h1m47 0h1M201 228.5h1m35 0h1m6 0h1m48 0h1m10 0h1M201 229.5h1m26 0h1m10 0h1m7 0h1m2 0h1m42 0h1m3 0h1M201 230.5h1m25 0h1m4 0h1m15 0h2m8 0h1m35 0h1M227 231.5h1m5 0h1m3 0h1m7 0h2m4 0h2m4 0h1m34 0h1m11 0h1M234 232.5h1m9 0h1m1 0h1m8 0h1m40 0h1m5 0h1M230 233.5h1m3 0h3m10 0h2m9 0h1m44 0h1M247 234.5h1m5 0h1m2 0h1m45 0h1m3 0h1M230 235.5h2m3 0h1m1 0h1m16 0h1m1 0h1m35 0h1m2 0h1M296 236.5h1M232 237.5h1m56 0h1m15 0h1M233 238.5h1m66 0h2M290 240.5h1m8 0h1M288 242.5h2M288 243.5h1M289 246.5h1m1 0h1M284 248.5h1m12 0h1M285 250.5h1M305 252.5h1M285 253.5h1m8 0h1M288 254.5h1m20 0h1M284 255.5h1m4 0h1m2 0h1M284 257.5h1m1 0h1m2 0h1M284 258.5h1M285 259.5h1m6 0h1M287 260.5h1m5 0h1m7 0h1M288 261.5h1m2 0h2M285 263.5h1m6 0h1M285 264.5h1M286 265.5h1m1 0h1m1 0h1m1 0h1m1 0h1m12 0h1M286 266.5h1m2 0h1m1 0h1M310 267.5h1M286 270.5h2m10 0h1m9 0h1M289 272.5h1m1 0h1m15 0h1M286 274.5h1M295 275.5h1m1 0h1M292 276.5h1m1 0h1M292 277.5h1M284 278.5h1m4 0h1M284 279.5h2M286 280.5h1m1 0h1m14 0h1M288 281.5h1m3 0h1M294 283.5h1M296 284.5h1m2 0h1m1 0h1" stroke="#ec5e58" stroke-opacity="0.8" fill="none"/><path d="M227 182.5h2m2 0h2m41 0h1m1 0h2m2 0h2m1 0h1m1 0h1m2 0h1m1 0h1M203 183.5h1m23 0h1m1 0h1m1 0h6m4 0h1m2 0h2m18 0h1m1 0h1m3 0h1m3 0h1m1 0h3m3 0h3m2 0h1m1 0h1m1 0h1M225 184.5h1m1 0h3m1 0h2m1 0h2m2 0h1m2 0h2m1 0h1m2 0h2m2 0h1m1 0h3m3 0h3m1 0h1m1 0h1m1 0h3m1 0h1m3 0h2m1 0h3m2 0h1m2 0h1m2 0h1M235 185.5h1m37 0h1m27 0h2M297 187.5h3m1 0h2m1 0h1M293 188.5h1m3 0h3M293 189.5h1m2 0h1m11 0h1M293 190.5h1M289 192.5h1M287 193.5h2m1 0h1m18 0h1M286 194.5h2m1 0h3m17 0h2M288 195.5h2m19 0h1m1 0h1M283 196.5h3m2 0h1m20 0h2M284 197.5h1m23 0h2M282 198.5h1m1 0h1m22 0h2m1 0h1M282 199.5h1m1 0h1m21 0h1M281 200.5h1m1 0h1m22 0h1m2 0h1M278 201.5h1m2 0h1m24 0h3M279 202.5h1m1 0h1M276 203.5h3m1 0h1M215 204.5h1m88 0h2M209 205.5h1m3 0h3m62 0h2m23 0h3M212 206.5h2m1 0h1m1 0h1m59 0h1m26 0h1M205 207.5h3m1 0h3m1 0h3m1 0h1m1 0h1m81 0h1m3 0h1M207 208.5h2m3 0h2m2 0h3m80 0h2m2 0h1M207 209.5h1m2 0h3m5 0h3m56 0h2m19 0h1m3 0h1M205 210.5h1m3 0h1m1 0h1m3 0h3m2 0h1m54 0h3m22 0h3M205 211.5h1m3 0h1m1 0h2m1 0h3m57 0h1m1 0h1M205 212.5h1m1 0h1m2 0h1m1 0h1m2 0h3m1 0h6m72 0h1m2 0h1M208 213.5h6m2 0h1m4 0h2m50 0h1m1 0h1m23 0h1M208 214.5h2m3 0h1m1 0h1m3 0h5m47 0h1m2 0h1m22 0h1m2 0h1M206 215.5h1m8 0h2m1 0h1m2 0h1m1 0h2m45 0h4m22 0h1M208 216.5h2m7 0h3m52 0h1M206 217.5h1m1 0h1m10 0h1m48 0h4M208 218.5h2m10 0h1m47 0h1m2 0h1m23 0h2M205 219.5h1m1 0h1m1 0h1m8 0h1m1 0h2m47 0h2m24 0h1M206 220.5h1m1 0h2m57 0h1m2 0h1m24 0h2M209 221.5h2m8 0h2m2 0h2m41 0h2m1 0h1m23 0h5M207 222.5h2m1 0h1m10 0h3m45 0h2m21 0h1m3 0h2M204 223.5h4m1 0h2m9 0h2m1 0h1m44 0h1m22 0h3m3 0h1M207 224.5h1m2 0h1m9 0h2m42 0h2m1 0h3m21 0h1m1 0h4M203 225.5h1m4 0h1m12 0h1m42 0h1m1 0h1m1 0h2m21 0h1m1 0h1M204 226.5h4m14 0h2m1 0h1m38 0h1m4 0h1m21 0h1m1 0h1M202 227.5h1m2 0h1m1 0h1m14 0h2m1 0h1m39 0h1m1 0h3m21 0h1M204 228.5h1m1 0h2m12 0h1m1 0h1m3 0h1m37 0h1m2 0h2m20 0h1M204 229.5h2m1 0h1m12 0h1m1 0h3m40 0h4m20 0h1m1 0h1M204 230.5h2m14 0h1m2 0h1m16 0h1m27 0h1m19 0h2M204 231.5h1m19 0h1m14 0h3m23 0h2M203 232.5h2m16 0h3m2 0h1m13 0h2m18 0h2m2 0h1M204 233.5h1m17 0h2m1 0h1m13 0h2m1 0h1m17 0h6m22 0h2M201 234.5h1m2 0h1m18 0h4m12 0h1m3 0h1m18 0h3m22 0h1M203 235.5h2m18 0h3m2 0h1m12 0h2m18 0h1m24 0h2M202 236.5h3m19 0h2m3 0h1m7 0h3m2 0h1m1 0h1m10 0h1m2 0h1m3 0h1m23 0h1M201 237.5h1m2 0h1m19 0h1m1 0h2m13 0h2m2 0h2m7 0h3m4 0h3m21 0h1M201 238.5h1m22 0h1m2 0h1m2 0h1m9 0h3m1 0h2m1 0h1m1 0h2m4 0h1m2 0h5M201 239.5h1m22 0h2m2 0h3m3 0h1m2 0h3m1 0h1m1 0h3m4 0h4m4 0h1m27 0h1M201 240.5h1m1 0h1m22 0h1m2 0h1m1 0h2m2 0h3m1 0h2m1 0h3m3 0h4m1 0h2m2 0h1m27 0h1M201 241.5h1m2 0h1m20 0h2m1 0h1m6 0h2m1 0h2m3 0h1m2 0h1m1 0h3m1 0h1m1 0h1m1 0h1m2 0h1m24 0h2M201 242.5h2m24 0h3m3 0h5m6 0h3m3 0h1m3 0h3m1 0h2m23 0h1m1 0h1m1 0h1M201 243.5h1m25 0h1m1 0h2m1 0h1m3 0h1m12 0h4m1 0h2m1 0h1m24 0h1m1 0h2M203 244.5h1m27 0h1m1 0h1m1 0h2m1 0h1m8 0h2m1 0h1m2 0h5m25 0h1M201 245.5h2m30 0h4m9 0h2m1 0h4m1 0h2m26 0h2M201 246.5h2m48 0h1m3 0h1M201 247.5h1m1 0h1M202 248.5h1m78 0h2M203 249.5h1m76 0h1m1 0h1M202 250.5h2m24 0h2M202 251.5h2m23 0h2m50 0h2M201 252.5h2m24 0h1m1 0h1m49 0h1m1 0h1M201 253.5h1m79 0h2M201 254.5h2m76 0h2M201 255.5h2m76 0h1M201 256.5h1m78 0h1M201 257.5h1m77 0h3m1 0h1M201 258.5h1m77 0h1M201 259.5h1m76 0h4M201 260.5h1m75 0h2m2 0h1m1 0h1M201 261.5h1m76 0h1m3 0h1M201 262.5h1m75 0h1m3 0h1M278 263.5h1m4 0h1M278 264.5h1m1 0h4M281 265.5h2M280 266.5h2m1 0h2M279 268.5h1m1 0h1m2 0h1M280 269.5h4m1 0h1M278 270.5h1m3 0h3M230 271.5h1m46 0h1m3 0h1m2 0h2M201 272.5h1m27 0h2m47 0h1M201 273.5h1m27 0h1m1 0h2m44 0h2m2 0h2m1 0h2M229 274.5h1m2 0h2m47 0h1m1 0h2M201 275.5h1m26 0h1m2 0h1m44 0h1m1 0h1m3 0h1M201 276.5h1m25 0h3m1 0h1m44 0h1m3 0h1M227 277.5h6m42 0h3m3 0h1m2 0h1M201 278.5h2m26 0h4m42 0h1m4 0h2M201 279.5h1m24 0h1m2 0h1m2 0h2m40 0h1M201 280.5h1m25 0h1m1 0h2m2 0h1m1 0h1m37 0h1m1 0h4m4 0h1M202 281.5h1m24 0h1m3 0h2m39 0h1m8 0h3M202 282.5h1m25 0h1m3 0h1m1 0h1m38 0h1m1 0h1m5 0h1M201 283.5h1m29 0h1m1 0h1m41 0h2m2 0h1M201 284.5h1m26 0h6m40 0h6m2 0h3m1 0h3m1 0h1" stroke="#f03a30" stroke-opacity="0.9" fill="none"/><path d="M220 182.5h2m2 0h2m11 0h4m2 0h1m3 0h6m3 0h1m3 0h4m2 0h1m1 0h1m1 0h1M212 183.5h2m1 0h1m1 0h3m2 0h1m1 0h1m12 0h1m12 0h2m1 0h1m1 0h3m1 0h1m1 0h1M210 184.5h1m2 0h6m1 0h2M301 188.5h2m1 0h1M301 189.5h6M294 190.5h3m1 0h10M293 191.5h15M293 192.5h5m1 0h6m1 0h3M294 193.5h15M294 194.5h12m2 0h1M291 195.5h3m1 0h4m1 0h7m1 0h1M289 196.5h19M289 197.5h19M289 198.5h1m1 0h1m1 0h14M286 199.5h1m1 0h18M285 200.5h20M284 201.5h19m1 0h1M282 202.5h2m1 0h2m1 0h17M283 203.5h21M280 204.5h3m1 0h18M281 205.5h16m1 0h1m1 0h2M280 206.5h21M279 207.5h17m2 0h2M280 208.5h5m1 0h2m1 0h10M281 209.5h11m1 0h3m1 0h1M278 210.5h4m1 0h14M277 211.5h1m1 0h13m1 0h4M276 212.5h7m1 0h13M276 213.5h21M211 214.5h2m63 0h5m1 0h14M210 215.5h1m1 0h3m59 0h1m1 0h15m1 0h1m1 0h2M210 216.5h6m58 0h22M210 217.5h3m1 0h2m57 0h10m1 0h11M210 218.5h8m55 0h18m1 0h3M210 219.5h4m1 0h3m54 0h3m1 0h17M211 220.5h5m1 0h2m54 0h2m1 0h16m1 0h1M211 221.5h1m1 0h3m55 0h21M212 222.5h3m1 0h2m1 0h1m51 0h18m1 0h1M212 223.5h3m1 0h2m53 0h16m1 0h3M212 224.5h8m51 0h3m1 0h11m1 0h3M209 225.5h5m2 0h1m1 0h2m50 0h1m1 0h18M209 226.5h3m1 0h1m1 0h1m1 0h2m51 0h1m1 0h16M208 227.5h3m1 0h7m53 0h13m1 0h1m1 0h1M208 228.5h6m1 0h4m51 0h1m1 0h6m1 0h2m1 0h7M208 229.5h1m1 0h2m1 0h2m1 0h2m1 0h1m50 0h2m1 0h10m1 0h3M207 230.5h7m1 0h5m49 0h13m1 0h4M206 231.5h13m49 0h1m1 0h18M205 232.5h3m1 0h10m1 0h1m47 0h17m1 0h1M205 233.5h7m1 0h8m48 0h1m1 0h16M206 234.5h9m1 0h4m45 0h2m1 0h1m1 0h1m1 0h6m1 0h4m1 0h1M205 235.5h8m2 0h6m1 0h1m41 0h18m1 0h2M207 236.5h1m1 0h13m42 0h1m1 0h12m2 0h6M205 237.5h4m1 0h1m1 0h11m41 0h21M205 238.5h17m41 0h2m1 0h17m1 0h1M206 239.5h2m1 0h12m1 0h2m38 0h2m3 0h1m1 0h13m1 0h2M205 240.5h15m1 0h2m1 0h1m36 0h2m1 0h11m1 0h8M205 241.5h15m2 0h1m17 0h3m18 0h7m1 0h6m1 0h8M205 242.5h19m1 0h1m13 0h2m2 0h1m17 0h18m1 0h1m1 0h1M204 243.5h23m12 0h1m1 0h3m16 0h2m1 0h17m1 0h1M204 244.5h20m3 0h4m8 0h6m13 0h2m1 0h5m1 0h14M204 245.5h18m1 0h5m1 0h4m4 0h1m1 0h1m1 0h4m12 0h5m2 0h5m1 0h6m2 0h2M204 246.5h5m1 0h17m1 0h6m1 0h9m1 0h2m5 0h2m3 0h8m1 0h12m1 0h1M204 247.5h30m1 0h2m1 0h2m3 0h6m1 0h6m1 0h2m2 0h19M205 248.5h3m1 0h16m1 0h2m1 0h5m2 0h1m1 0h6m1 0h5m1 0h7m1 0h11m1 0h5m2 0h2M204 249.5h18m2 0h3m1 0h1m1 0h2m1 0h2m2 0h10m1 0h2m1 0h5m1 0h4m1 0h10m1 0h1m1 0h4M205 250.5h20m1 0h1m3 0h23m2 0h2m1 0h2m1 0h7m1 0h11M205 251.5h18m1 0h3m3 0h3m2 0h15m1 0h1m1 0h4m1 0h17m2 0h1M205 252.5h19m1 0h2m4 0h2m1 0h1m1 0h3m2 0h6m2 0h1m1 0h8m1 0h18M203 253.5h1m2 0h1m1 0h17m1 0h6m1 0h2m1 0h7m1 0h7m1 0h9m1 0h13m1 0h1m1 0h1M203 254.5h21m1 0h1m1 0h9m1 0h3m1 0h1m1 0h3m1 0h32M203 255.5h9m2 0h13m1 0h3m1 0h1m1 0h2m1 0h10m1 0h2m1 0h9m1 0h10m1 0h5m1 0h1M203 256.5h2m1 0h5m4 0h22m1 0h7m2 0h21m1 0h1m1 0h8M203 257.5h1m1 0h6m5 0h13m2 0h2m1 0h1m1 0h20m1 0h12m1 0h2m1 0h5M203 258.5h8m6 0h6m1 0h1m1 0h6m1 0h2m1 0h13m1 0h5m1 0h23M202 259.5h3m1 0h4m8 0h10m2 0h8m1 0h37M202 260.5h8m8 0h10m1 0h1m1 0h4m1 0h9m1 0h5m1 0h23m1 0h1M203 261.5h7m9 0h7m1 0h3m4 0h5m2 0h35M202 262.5h7m10 0h7m1 0h1m1 0h1m1 0h1m1 0h24m1 0h19M202 263.5h7m11 0h4m1 0h8m1 0h1m1 0h11m1 0h8m1 0h14m1 0h6M201 264.5h1m1 0h6m11 0h6m1 0h2m1 0h43m1 0h3M201 265.5h7m12 0h4m1 0h6m2 0h20m1 0h16m1 0h7M201 266.5h7m12 0h1m1 0h7m1 0h6m1 0h40M201 267.5h7m12 0h4m3 0h2m1 0h1m1 0h1m1 0h36m1 0h2m1 0h4M201 268.5h4m1 0h2m12 0h3m2 0h1m1 0h4m1 0h1m1 0h12m1 0h22m1 0h8M201 269.5h7m12 0h8m2 0h3m1 0h38m1 0h5M201 270.5h1m1 0h5m12 0h11m1 0h2m1 0h1m1 0h8m1 0h11m1 0h16m2 0h2M201 271.5h7m12 0h9m2 0h20m1 0h17m1 0h1m2 0h4M202 272.5h6m12 0h8m7 0h38m1 0h3M202 273.5h1m1 0h5m11 0h8m7 0h9m1 0h27m1 0h4M204 274.5h5m11 0h6m1 0h1m6 0h35m2 0h6M202 275.5h8m9 0h9m6 0h2m1 0h4m1 0h17m1 0h3m1 0h12M203 276.5h8m7 0h5m1 0h3m6 0h3m1 0h3m1 0h25m1 0h8M204 277.5h7m7 0h7m8 0h4m1 0h2m1 0h21m1 0h5m1 0h6M203 278.5h9m5 0h7m1 0h1m7 0h2m1 0h1m2 0h9m1 0h3m1 0h21M203 279.5h10m4 0h5m2 0h1m9 0h2m1 0h1m3 0h1m1 0h3m1 0h3m1 0h6m1 0h10m1 0h4M204 280.5h8m5 0h9m10 0h3m2 0h1m1 0h1m2 0h2m1 0h2m1 0h7m1 0h5m2 0h2m3 0h1M203 281.5h1m1 0h5m8 0h2m1 0h5m9 0h2m2 0h6m1 0h8m1 0h6m1 0h5m1 0h2m1 0h1M205 282.5h1m1 0h2m10 0h3m1 0h4m10 0h2m1 0h13m1 0h3m1 0h5m1 0h2m2 0h1m2 0h1M202 283.5h6m13 0h3m1 0h3m8 0h1m1 0h4m1 0h1m1 0h2m2 0h4m1 0h5m1 0h7m2 0h1m1 0h1M202 284.5h7m11 0h8m6 0h40" stroke="#f61c0c" stroke-opacity="1.0" fill="none"/><path d="M213 182.5h1m2 0h1M212 255.5h2M211 256.5h4M211 257.5h5M211 258.5h6M210 259.5h8M210 260.5h8M210 261.5h9M209 262.5h10M209 263.5h3m4 0h4M209 264.5h2m5 0h4M208 265.5h3m6 0h3M208 266.5h2m8 0h2M208 267.5h2m7 0h3M208 268.5h2m7 0h3M208 269.5h3m6 0h3M208 270.5h3m6 0h3M208 271.5h4m5 0h3M208 272.5h4m5 0h3M209 273.5h4m4 0h3M209 274.5h5m2 0h4M210 275.5h9M211 276.5h7M211 277.5h7M212 278.5h5M213 279.5h4M212 280.5h5M210 281.5h8M209 282.5h10M208 283.5h4m5 0h3M209 284.5h4m3 0h4" stroke="#ff3212" stroke-opacity="1.0" fill="none"/><path d="M212 263.5h4M211 264.5h5M211 265.5h6M210 266.5h8M210 267.5h7M210 268.5h7M211 269.5h6M211 270.5h6M212 271.5h5M212 272.5h5M213 273.5h4M214 274.5h2M212 283.5h5M213 284.5h3" stroke="#ff5a1c" stroke-opacity="1.0" fill="none"/></g><path d="M229.0 182.0V286.0M200.8 250.2H313.3" stroke="#333" stroke-width="1" fill="none"/><rect x="200.8" y="182.0" width="112.5" height="104.0" fill="none" stroke="#555" stroke-width="1.2"/><g font-size="4.2" fill="#555"><text x="203.8" y="188.0">R2</text><text x="258.8" y="188.0">R2</text><text x="212.8" y="276.0">R4</text><text x="267.8" y="276.0">R3</text></g><g font-size="4.4" fill="#333" font-weight="bold"><text x="197.8" y="292.6">10<tspan dy="-1.6" font-size="2.9">0</tspan></text><text x="193.5" y="287.8">10<tspan dy="-1.6" font-size="2.9">0</tspan></text><line x1="200.8" y1="286.0" x2="200.8" y2="287.5" stroke="#555" stroke-width="0.6"/><line x1="199.3" y1="286.0" x2="200.8" y2="286.0" stroke="#555" stroke-width="0.6"/><text x="225.9" y="292.6">10<tspan dy="-1.6" font-size="2.9">1</tspan></text><text x="193.5" y="261.8">10<tspan dy="-1.6" font-size="2.9">1</tspan></text><line x1="228.9" y1="286.0" x2="228.9" y2="287.5" stroke="#555" stroke-width="0.6"/><line x1="199.3" y1="260.0" x2="200.8" y2="260.0" stroke="#555" stroke-width="0.6"/><text x="254.1" y="292.6">10<tspan dy="-1.6" font-size="2.9">2</tspan></text><text x="193.5" y="235.8">10<tspan dy="-1.6" font-size="2.9">2</tspan></text><line x1="257.1" y1="286.0" x2="257.1" y2="287.5" stroke="#555" stroke-width="0.6"/><line x1="199.3" y1="234.0" x2="200.8" y2="234.0" stroke="#555" stroke-width="0.6"/><text x="282.2" y="292.6">10<tspan dy="-1.6" font-size="2.9">3</tspan></text><text x="193.5" y="209.8">10<tspan dy="-1.6" font-size="2.9">3</tspan></text><line x1="285.2" y1="286.0" x2="285.2" y2="287.5" stroke="#555" stroke-width="0.6"/><line x1="199.3" y1="208.0" x2="200.8" y2="208.0" stroke="#555" stroke-width="0.6"/><text x="310.3" y="292.6">10<tspan dy="-1.6" font-size="2.9">4</tspan></text><text x="193.5" y="183.8">10<tspan dy="-1.6" font-size="2.9">4</tspan></text><line x1="313.3" y1="286.0" x2="313.3" y2="287.5" stroke="#555" stroke-width="0.6"/><line x1="199.3" y1="182.0" x2="200.8" y2="182.0" stroke="#555" stroke-width="0.6"/></g><text x="257.1" y="296.6" font-size="4.6" font-weight="bold" fill="#2a2a2a" text-anchor="middle" textLength="20" lengthAdjust="spacingAndGlyphs">eGFP Log</text><g shape-rendering="crispEdges" filter="url(#sb)"><path d="M104 313.5h1m23 0h1M87 314.5h1m10 0h1M81 315.5h1m19 0h1m25 0h1M82 317.5h1m37 0h1M85 318.5h1m33 0h1m4 0h1M58 319.5h1m24 0h1m27 0h1m7 0h2M121 320.5h1M72 321.5h1m4 0h1m5 0h1m35 0h1M72 322.5h1M72 323.5h1m32 0h1M90 324.5h1m24 0h1M68 325.5h2m9 0h1m1 0h1m28 0h1m2 0h1m2 0h1M57 326.5h1m2 0h1m4 0h1M101 327.5h1M105 328.5h1m7 0h1M67 329.5h1m24 0h1m8 0h1m9 0h1M55 330.5h1m49 0h1M54 331.5h1m9 0h1m2 0h1m24 0h1m10 0h1m1 0h1m3 0h1M64 332.5h1m3 0h1m4 0h1m13 0h1m11 0h1m58 0h1M67 333.5h1m6 0h1m14 0h1m9 0h1m4 0h1m51 0h1m1 0h1M62 334.5h1m4 0h1m89 0h1M48 335.5h1m6 0h1m10 0h1m1 0h1m18 0h1m15 0h1m50 0h1M57 336.5h1m2 0h3m9 0h1m11 0h1m17 0h1m48 0h1M50 337.5h1m49 0h1m54 0h1M67 338.5h1m8 0h2m74 0h1m1 0h2M67 339.5h1m27 0h1m54 0h1M48 340.5h1m5 0h1m7 0h2m2 0h1m4 0h1m3 0h1M48 341.5h1m5 0h1m4 0h1m2 0h3m3 0h1m3 0h1m25 0h1M54 342.5h1m3 0h1m3 0h1m4 0h2m22 0h1m4 0h1M48 343.5h1m5 0h2m13 0h1m2 0h2m1 0h1m1 0h1m17 0h1m49 0h1M48 344.5h1m4 0h1m8 0h1m3 0h1m3 0h1m14 0h1m56 0h3M48 345.5h1m2 0h1m8 0h1m9 0h1m1 0h1m4 0h2m1 0h1m13 0h1m56 0h1M50 346.5h2m7 0h1m5 0h1m3 0h1m1 0h1m67 0h2m8 0h1M53 347.5h1m2 0h1M53 348.5h1m6 0h1m10 0h1m16 0h1m68 0h1M52 349.5h2m2 0h2m11 0h1m6 0h1m1 0h1m11 0h1m59 0h1M48 350.5h2m5 0h1m16 0h1m7 0h1M49 351.5h1m21 0h1m17 0h1m45 0h1M48 352.5h1m5 0h1m18 0h1m1 0h1m57 0h1M53 353.5h1m25 0h1m4 0h1m2 0h1m54 0h1m5 0h1m6 0h1m1 0h1M57 354.5h1m20 0h1m4 0h1m1 0h1m44 0h1M49 355.5h1m6 0h1m27 0h1M49 356.5h1m5 0h1m13 0h1m5 0h1m6 0h1m46 0h1m27 0h1M50 357.5h1m3 0h1m18 0h1m7 0h2m42 0h1m28 0h1M51 358.5h1m23 0h1m1 0h1m5 0h1m51 0h1m1 0h1m8 0h1M48 359.5h1m25 0h1m48 0h1M50 360.5h1m32 0h1m37 0h1M51 361.5h1m17 0h1m2 0h1m4 0h1m1 0h2M51 362.5h2m19 0h1m50 0h1M74 363.5h1m1 0h1m46 0h1m5 0h2M77 364.5h1m41 0h1m1 0h1m1 0h2M48 365.5h1m74 0h1m14 0h1m5 0h1M48 366.5h1m72 0h1m3 0h1M117 367.5h1m2 0h1m2 0h1m2 0h1M125 368.5h1m17 0h1M48 369.5h1m65 0h1m1 0h1M111 370.5h1m1 0h1m21 0h1M127 371.5h1M113 372.5h1m18 0h1M108 373.5h1m6 0h1m6 0h1M108 374.5h1m25 0h1M106 376.5h1M124 377.5h1m7 0h1M106 378.5h1m20 0h1M107 380.5h1m2 0h1m35 0h1M104 381.5h2M105 383.5h2m6 0h1M120 384.5h1m1 0h1M107 385.5h1m2 0h1m8 0h1m17 0h1M107 386.5h1m3 0h1m5 0h1m2 0h2m27 0h1m6 0h1M110 387.5h1m7 0h1m15 0h2m12 0h1M105 388.5h2m1 0h1m18 0h1M112 389.5h1m1 0h2m10 0h1m2 0h1m8 0h1m8 0h1M117 390.5h1m11 0h1m1 0h2M109 391.5h1m28 0h1M111 392.5h1m3 0h1m7 0h1m13 0h1M105 393.5h2m7 0h1m1 0h1m14 0h1m12 0h1M126 394.5h1m2 0h1m5 0h1m13 0h1M108 395.5h1m2 0h1m14 0h1m27 0h1M106 396.5h1m12 0h1m28 0h1M107 397.5h1m1 0h2m4 0h1m1 0h1m7 0h1m22 0h2m2 0h1M109 398.5h2m8 0h2m11 0h2m2 0h1m3 0h1m13 0h1M106 399.5h1m8 0h1m10 0h1m10 0h1m6 0h1M114 400.5h1m4 0h2m1 0h1m5 0h1m2 0h1M106 401.5h1m2 0h1m5 0h2m5 0h2m1 0h1m4 0h1m1 0h2M100 402.5h1m6 0h1m3 0h1m2 0h1m9 0h1m10 0h1m11 0h1M107 403.5h1m7 0h2m2 0h1m1 0h1m7 0h1m13 0h1M98 404.5h1m5 0h2m4 0h1m7 0h1m3 0h1m1 0h1m8 0h1m18 0h1M100 405.5h2m1 0h2m9 0h1m13 0h1M101 406.5h1m6 0h1m3 0h1m2 0h1m1 0h1m7 0h1M94 407.5h1m2 0h1m5 0h2m17 0h1m17 0h1M90 408.5h1m7 0h1m12 0h2m2 0h1m10 0h1m30 0h1M87 409.5h1m2 0h1m2 0h1m4 0h2m6 0h2m3 0h1m6 0h1m2 0h1m1 0h3M79 410.5h1m2 0h1m4 0h1m2 0h1m10 0h1m8 0h1m3 0h1m7 0h1m14 0h1M82 411.5h1m4 0h2m2 0h1m1 0h1m3 0h2m5 0h1M83 412.5h1m19 0h1m2 0h1m5 0h2m1 0h1m14 0h1m3 0h1M79 413.5h1m3 0h4m4 0h1m23 0h1m13 0h1M110 414.5h2M79 415.5h1m9 0h1m2 0h1m6 0h2m4 0h1m1 0h2m3 0h1m8 0h3" stroke="#ec5e58" stroke-opacity="0.8" fill="none"/><path d="M131 313.5h3M129 314.5h1m1 0h3M130 315.5h1M68 316.5h1m60 0h1m1 0h1M128 317.5h1M127 318.5h1M125 319.5h2M125 320.5h2M121 321.5h1m1 0h1m1 0h1M121 322.5h1M118 323.5h3m2 0h1M118 324.5h2M158 325.5h1M119 326.5h1m37 0h2M117 327.5h2m39 0h1M114 328.5h1m40 0h1m1 0h2M116 329.5h1m37 0h1m1 0h1M111 330.5h1m3 0h1m36 0h1m1 0h3m1 0h1M111 331.5h4m37 0h1m5 0h1M110 332.5h1m1 0h1m37 0h2m1 0h1m3 0h1M109 333.5h1m2 0h1m36 0h1m1 0h1m2 0h1M107 334.5h5m36 0h3m2 0h1M108 335.5h3m35 0h1m1 0h2m1 0h1M104 336.5h1m3 0h1m37 0h1m1 0h1M102 337.5h1m5 0h1m36 0h2M103 338.5h1m1 0h1m37 0h1m1 0h1M101 339.5h1m1 0h3m35 0h1m2 0h1M101 340.5h3m38 0h2M99 341.5h3m1 0h1m35 0h3m1 0h1M101 342.5h1m1 0h1m35 0h1M96 343.5h1m4 0h1m35 0h1m1 0h1M97 344.5h1m2 0h1m35 0h1m2 0h1M96 345.5h1m1 0h1m37 0h1m1 0h1m1 0h1M60 346.5h1m1 0h3m29 0h2m1 0h3m34 0h1m1 0h1M61 347.5h1m1 0h2m1 0h2m1 0h1m28 0h1m34 0h3M67 348.5h1m26 0h3m35 0h2M61 349.5h1m5 0h1m27 0h3m34 0h2M62 350.5h1m1 0h1m28 0h1m35 0h2m1 0h1M60 351.5h1m1 0h2m1 0h1m1 0h2m24 0h3m32 0h1m1 0h1M61 352.5h5m3 0h1m21 0h1m2 0h1m31 0h5M61 353.5h1m2 0h3m2 0h1m4 0h1m18 0h1m30 0h1m3 0h1M60 354.5h1m1 0h2m1 0h1m2 0h1m4 0h4m12 0h1m39 0h1M58 355.5h5m1 0h3m1 0h1m4 0h1m18 0h1m30 0h1m2 0h1M57 356.5h1m1 0h5m2 0h2m17 0h1m3 0h3m33 0h1M57 357.5h1m9 0h1m18 0h1m1 0h1m1 0h1m31 0h1M56 358.5h2m2 0h3m3 0h1m19 0h1m2 0h1m32 0h1M57 359.5h1m6 0h3m19 0h3m29 0h1M55 360.5h1m2 0h2m1 0h2m3 0h1m18 0h1m2 0h1m28 0h1M57 361.5h1m2 0h1m2 0h1m1 0h1m1 0h2m14 0h1m1 0h1m1 0h1m28 0h1M53 362.5h1m1 0h2m1 0h1m2 0h1m4 0h1m49 0h1M53 363.5h1m1 0h1m5 0h1m4 0h1m1 0h3m2 0h1m9 0h3m31 0h1M51 364.5h1m4 0h1m1 0h2m5 0h1m2 0h1m5 0h1m5 0h5m29 0h2M52 365.5h6m9 0h1m1 0h2m2 0h1m5 0h1m2 0h1m29 0h2m1 0h1M50 366.5h1m4 0h1m13 0h1m4 0h1m2 0h3m32 0h1m2 0h1M50 367.5h3m1 0h1m15 0h5m1 0h1m4 0h1m27 0h1m1 0h2M50 368.5h3m1 0h1m17 0h2m1 0h4m1 0h1m27 0h1M49 369.5h1m2 0h1m22 0h1m32 0h2M51 370.5h1m1 0h1m52 0h1M48 371.5h1m2 0h2m55 0h1M48 372.5h2m1 0h1m53 0h2M50 373.5h1m51 0h2M48 374.5h1m2 0h2m48 0h2M48 375.5h2m1 0h1M100 376.5h1M48 377.5h1m2 0h1m49 0h2M49 378.5h1m49 0h1m4 0h2M48 379.5h1m1 0h1m48 0h1m3 0h3M48 380.5h1m1 0h1m48 0h2m4 0h1M99 381.5h1M49 382.5h2m48 0h2M48 383.5h1m1 0h1m48 0h2m1 0h1M48 384.5h1m51 0h3m55 0h1M48 385.5h1m1 0h1m50 0h1M48 386.5h3M48 387.5h2m50 0h1m2 0h1M48 388.5h1m1 0h1m50 0h2m55 0h1M49 389.5h2m48 0h2m1 0h1M48 390.5h1m1 0h1m49 0h3m1 0h1M48 391.5h1m1 0h1m48 0h1m3 0h1M48 392.5h1m49 0h2m1 0h2m1 0h1M49 393.5h2m48 0h2m2 0h1M48 394.5h2m48 0h1m1 0h1m1 0h1m2 0h1M98 395.5h2m2 0h2M48 396.5h1m48 0h4m4 0h1M48 397.5h1m48 0h3m2 0h2M48 398.5h2m46 0h1m4 0h1m2 0h1M48 399.5h2m47 0h2m1 0h5M94 400.5h2m5 0h1m2 0h1M48 401.5h3m40 0h1m1 0h1m2 0h1m2 0h1m2 0h1M49 402.5h1m40 0h4m1 0h1M48 403.5h1m1 0h1m39 0h3m4 0h2M48 404.5h1m31 0h2m5 0h5m1 0h3M48 405.5h1m1 0h1m28 0h3m1 0h1m2 0h2m1 0h1m1 0h1m2 0h1m1 0h1M48 406.5h2m31 0h1m1 0h2m1 0h1m1 0h1m1 0h1M48 407.5h2m27 0h2m4 0h1m5 0h1M50 408.5h1m26 0h1m1 0h1m2 0h1M48 409.5h1m28 0h1m2 0h1M49 410.5h2m24 0h1m8 0h2M49 411.5h2M48 412.5h2m25 0h2M49 413.5h2m24 0h1m66 0h1M49 414.5h2m82 0h1M50 415.5h2m22 0h3" stroke="#f03a30" stroke-opacity="0.9" fill="none"/><path d="M135 313.5h12m10 0h1M62 314.5h1m71 0h4m1 0h1m1 0h2m1 0h2m11 0h2M135 315.5h1m2 0h2m1 0h1m1 0h3m12 0h1M132 316.5h13m12 0h2M131 317.5h4m1 0h8m13 0h2M129 318.5h14m12 0h4M128 319.5h2m2 0h11m10 0h6M128 320.5h14m10 0h7M129 321.5h12m10 0h8M125 322.5h3m1 0h10m6 0h3m1 0h7m2 0h1M125 323.5h13m6 0h15M123 324.5h14m7 0h12m2 0h1M122 325.5h2m1 0h2m1 0h9m7 0h7m1 0h5M120 326.5h1m1 0h4m1 0h9m8 0h10m1 0h2M119 327.5h20m5 0h9m1 0h1M118 328.5h4m1 0h2m1 0h15m2 0h12M118 329.5h33m1 0h1M117 330.5h35M115 331.5h3m1 0h31M114 332.5h29m1 0h6M114 333.5h1m1 0h29m1 0h2M112 334.5h9m1 0h21m1 0h4M111 335.5h1m1 0h27m1 0h4M110 336.5h1m1 0h19m1 0h9m1 0h4M110 337.5h2m1 0h1m1 0h1m1 0h26m1 0h1M108 338.5h1m2 0h29m1 0h2M106 339.5h8m1 0h24m1 0h1M104 340.5h28m1 0h7M104 341.5h1m1 0h32M104 342.5h6m1 0h27M104 343.5h4m1 0h25m1 0h1M103 344.5h1m1 0h30M102 345.5h31M100 346.5h4m1 0h29M99 347.5h1m1 0h30m1 0h1M98 348.5h1m1 0h22m1 0h3m1 0h3M98 349.5h30M98 350.5h1m1 0h22m1 0h5M96 351.5h2m2 0h13m1 0h8m1 0h2m1 0h1M95 352.5h3m3 0h24M95 353.5h2m1 0h23m1 0h1M94 354.5h4m1 0h21m1 0h1M93 355.5h30M92 356.5h1m1 0h21m1 0h1m1 0h4M91 357.5h30M91 358.5h2m1 0h18m1 0h3m1 0h1M89 359.5h2m1 0h1m1 0h24M89 360.5h5m1 0h13m1 0h6m1 0h1M88 361.5h1m2 0h25M87 362.5h3m1 0h22m1 0h1M87 363.5h24m1 0h3M60 364.5h5m20 0h4m1 0h17m1 0h2m1 0h2M59 365.5h1m1 0h6m17 0h10m1 0h14m1 0h2M56 366.5h4m1 0h6m16 0h4m1 0h19m1 0h2M55 367.5h2m1 0h1m1 0h10m12 0h23m1 0h3M55 368.5h1m1 0h4m1 0h6m1 0h2m11 0h8m1 0h6m1 0h1m1 0h7M55 369.5h7m1 0h3m1 0h7m5 0h2m1 0h25M54 370.5h1m1 0h13m3 0h2m2 0h30M54 371.5h6m1 0h15m1 0h1m1 0h6m1 0h17m1 0h1M53 372.5h50M55 373.5h14m1 0h2m2 0h28M53 374.5h48M52 375.5h1m1 0h16m1 0h8m1 0h19m1 0h1M53 376.5h19m1 0h4m1 0h19m1 0h2M52 377.5h11m3 0h29m1 0h4M51 378.5h1m1 0h5m1 0h3m5 0h31M51 379.5h10m7 0h24m1 0h5M51 380.5h10m7 0h26m1 0h3M51 381.5h10m7 0h26m1 0h4M51 382.5h10m7 0h27m1 0h3M51 383.5h9m8 0h23m1 0h5m1 0h1M53 384.5h7m7 0h8m1 0h23M51 385.5h4m1 0h4m7 0h21m1 0h8m1 0h1M52 386.5h8m7 0h21m1 0h10M52 387.5h8m7 0h11m1 0h21M51 388.5h2m2 0h5m7 0h7m1 0h18m1 0h6M51 389.5h1m1 0h7m8 0h25m1 0h2m2 0h1M53 390.5h6m9 0h8m1 0h22M51 391.5h8m10 0h23m1 0h1m2 0h3M51 392.5h8m11 0h6m1 0h19M52 393.5h3m1 0h2m13 0h24m1 0h2M52 394.5h6m13 0h11m1 0h7m1 0h5M50 395.5h2m1 0h5m13 0h5m1 0h19M50 396.5h7m14 0h5m1 0h8m1 0h4m2 0h4M52 397.5h5m14 0h7m1 0h3m1 0h10m1 0h1M50 398.5h7m14 0h12m2 0h1m1 0h3m1 0h4M52 399.5h5m14 0h5m1 0h3m2 0h3m1 0h1m1 0h2m2 0h4M51 400.5h1m1 0h4m14 0h8m2 0h6m1 0h1m3 0h1M51 401.5h6m14 0h6m1 0h5m1 0h4m1 0h1M51 402.5h1m2 0h4m13 0h6m1 0h5m1 0h5M51 403.5h7m13 0h5m1 0h2m1 0h8M51 404.5h7m12 0h6m1 0h2m6 0h2M51 405.5h7m12 0h7M51 406.5h7m11 0h8M51 407.5h6m12 0h3m1 0h3M51 408.5h8m9 0h7M51 409.5h9m8 0h8M53 410.5h8m6 0h6m1 0h1M52 411.5h1m1 0h8m5 0h5m1 0h2M52 412.5h1m1 0h1m1 0h6m5 0h6m1 0h1M52 413.5h1m1 0h7m6 0h8m80 0h1M48 414.5h1m3 0h2m1 0h6m7 0h4m74 0h1M48 415.5h2m2 0h10m5 0h7m70 0h1" stroke="#f61c0c" stroke-opacity="1.0" fill="none"/><path d="M147 313.5h3m5 0h2M146 314.5h3m7 0h1M146 315.5h3m6 0h3M145 316.5h6m2 0h4M144 317.5h13M143 318.5h12M143 319.5h10M142 320.5h10M141 321.5h10M139 322.5h6m3 0h1M138 323.5h6M137 324.5h7M137 325.5h7M136 326.5h8M139 327.5h5M141 328.5h2M63 377.5h3M62 378.5h5M61 379.5h7M61 380.5h7M61 381.5h7M61 382.5h7M61 383.5h7M60 384.5h7M60 385.5h7M60 386.5h7M60 387.5h7M60 388.5h7M60 389.5h8M59 390.5h9M59 391.5h10M59 392.5h3m2 0h6M58 393.5h3m5 0h5M58 394.5h2m7 0h4M58 395.5h2m8 0h3M57 396.5h3m8 0h3M57 397.5h2m10 0h2M57 398.5h2m10 0h2M57 399.5h2m10 0h2M57 400.5h2m10 0h2M57 401.5h2m10 0h2M58 402.5h2m9 0h2M58 403.5h2m9 0h2M58 404.5h2m8 0h2M58 405.5h2m7 0h3M58 406.5h3m6 0h2M58 407.5h4m4 0h3M59 408.5h9M60 409.5h8M61 410.5h6M62 411.5h5M62 412.5h5M61 413.5h6M61 414.5h5m1 0h1M62 415.5h5" stroke="#ff3212" stroke-opacity="1.0" fill="none"/><path d="M150 313.5h5M149 314.5h7M149 315.5h6M151 316.5h2M62 392.5h2M61 393.5h5M60 394.5h7M60 395.5h8M60 396.5h8M59 397.5h10M59 398.5h10M59 399.5h10M59 400.5h10M59 401.5h10M60 402.5h9M60 403.5h9M60 404.5h8M60 405.5h7M61 406.5h6M62 407.5h4" stroke="#ff5a1c" stroke-opacity="1.0" fill="none"/></g><path d="M75.3 313.0V417.0M48.0 381.3H159.5" stroke="#333" stroke-width="1" fill="none"/><rect x="48.0" y="313.0" width="111.5" height="104.0" fill="none" stroke="#555" stroke-width="1.2"/><g font-size="4.2" fill="#555"><text x="51.0" y="319.0">R2</text><text x="106.0" y="319.0">R2</text><text x="60.0" y="407.0">R4</text><text x="115.0" y="407.0">R3</text></g><g font-size="4.4" fill="#333" font-weight="bold"><text x="45.0" y="423.6">10<tspan dy="-1.6" font-size="2.9">0</tspan></text><text x="40.7" y="418.8">10<tspan dy="-1.6" font-size="2.9">0</tspan></text><line x1="48.0" y1="417.0" x2="48.0" y2="418.5" stroke="#555" stroke-width="0.6"/><line x1="46.5" y1="417.0" x2="48.0" y2="417.0" stroke="#555" stroke-width="0.6"/><text x="72.9" y="423.6">10<tspan dy="-1.6" font-size="2.9">1</tspan></text><text x="40.7" y="392.8">10<tspan dy="-1.6" font-size="2.9">1</tspan></text><line x1="75.9" y1="417.0" x2="75.9" y2="418.5" stroke="#555" stroke-width="0.6"/><line x1="46.5" y1="391.0" x2="48.0" y2="391.0" stroke="#555" stroke-width="0.6"/><text x="100.8" y="423.6">10<tspan dy="-1.6" font-size="2.9">2</tspan></text><text x="40.7" y="366.8">10<tspan dy="-1.6" font-size="2.9">2</tspan></text><line x1="103.8" y1="417.0" x2="103.8" y2="418.5" stroke="#555" stroke-width="0.6"/><line x1="46.5" y1="365.0" x2="48.0" y2="365.0" stroke="#555" stroke-width="0.6"/><text x="128.6" y="423.6">10<tspan dy="-1.6" font-size="2.9">3</tspan></text><text x="40.7" y="340.8">10<tspan dy="-1.6" font-size="2.9">3</tspan></text><line x1="131.6" y1="417.0" x2="131.6" y2="418.5" stroke="#555" stroke-width="0.6"/><line x1="46.5" y1="339.0" x2="48.0" y2="339.0" stroke="#555" stroke-width="0.6"/><text x="156.5" y="423.6">10<tspan dy="-1.6" font-size="2.9">4</tspan></text><text x="40.7" y="314.8">10<tspan dy="-1.6" font-size="2.9">4</tspan></text><line x1="159.5" y1="417.0" x2="159.5" y2="418.5" stroke="#555" stroke-width="0.6"/><line x1="46.5" y1="313.0" x2="48.0" y2="313.0" stroke="#555" stroke-width="0.6"/></g><text x="103.8" y="427.6" font-size="4.6" font-weight="bold" fill="#2a2a2a" text-anchor="middle" textLength="20" lengthAdjust="spacingAndGlyphs">eGFP Log</text><g shape-rendering="crispEdges" filter="url(#sb)"><path d="M310 313.5h2M204 316.5h1m66 0h1M216 317.5h1m10 0h1m7 0h1M204 318.5h1m26 0h1m16 0h1m14 0h1m3 0h1M211 319.5h1m23 0h2m24 0h1m7 0h1m2 0h1M214 320.5h1m18 0h1m2 0h1m18 0h1m9 0h1m4 0h1M205 321.5h1m10 0h1m20 0h1m10 0h1m13 0h1M230 322.5h1m12 0h1m19 0h1m3 0h1m42 0h1M208 323.5h1m8 0h1m5 0h1m2 0h1m21 0h2m16 0h1m38 0h1M206 324.5h1m12 0h1m7 0h1m16 0h1m13 0h1m45 0h1M206 325.5h1m1 0h1m46 0h1m6 0h1m40 0h1M220 326.5h1m5 0h1m1 0h1m8 0h1m17 0h3m8 0h1M201 327.5h1m19 0h1m2 0h1m3 0h1M212 328.5h1m1 0h1m3 0h1m18 0h1m4 0h1m7 0h1m1 0h1M209 329.5h1m3 0h1m1 0h1m12 0h1m4 0h1m21 0h1m1 0h1M203 330.5h1m3 0h2m2 0h1m19 0h1m4 0h1m19 0h1m5 0h1m38 0h1M210 331.5h1m14 0h1m80 0h1M206 332.5h1m14 0h1m3 0h1m5 0h1m2 0h2m5 0h1m1 0h1m3 0h1m11 0h1m40 0h1m2 0h2M211 333.5h1m31 0h2m3 0h1m4 0h1m4 0h2M203 334.5h1m10 0h1m1 0h2m4 0h1m1 0h1m3 0h1m10 0h1m4 0h2m52 0h1M207 335.5h1m4 0h2m5 0h1m4 0h1m11 0h1m5 0h1m7 0h1m5 0h1m1 0h1m41 0h1M208 336.5h1m18 0h1m8 0h1m8 0h1m4 0h1m5 0h1m46 0h1M203 337.5h1m1 0h1m5 0h1m10 0h1m15 0h1m1 0h1m12 0h1M203 338.5h2m3 0h1m14 0h1m13 0h1m7 0h1m10 0h1m40 0h1M201 339.5h1m21 0h1m6 0h1m7 0h1m3 0h2m52 0h1M201 340.5h1m29 0h1m11 0h1m1 0h1m6 0h1m54 0h1M202 341.5h2m20 0h1m3 0h1m7 0h1m13 0h1m1 0h1m43 0h1M203 342.5h1m35 0h1m8 0h1m2 0h1M225 343.5h2m14 0h1m2 0h1m3 0h1m47 0h1M203 344.5h1m23 0h1m70 0h1m2 0h1M202 345.5h1m25 0h2m1 0h2m5 0h1m9 0h1m51 0h1M239 346.5h1m7 0h1M201 347.5h1m29 0h1m16 0h1m54 0h1M201 348.5h1m30 0h1m7 0h2m1 0h1m1 0h1m61 0h1M201 349.5h1m30 0h1m16 0h2M232 350.5h1m2 0h1m2 0h1m5 0h2M201 351.5h1m39 0h1M201 352.5h1m48 0h1m41 0h1M232 353.5h1m1 0h1m5 0h1m70 0h1M201 354.5h1m30 0h1m7 0h1m6 0h1m41 0h1M201 355.5h1m28 0h1m5 0h1m5 0h1m2 0h1m44 0h1M234 356.5h1m3 0h1m7 0h1m45 0h1M201 357.5h1m29 0h1m10 0h1m1 0h1m42 0h1m14 0h1M201 358.5h1m30 0h2m1 0h1m3 0h1m2 0h2m43 0h1m11 0h1M232 359.5h1m3 0h1m5 0h1m43 0h1M231 360.5h2m2 0h1m48 0h1m8 0h1m14 0h1M233 361.5h1m72 0h1M231 362.5h2m1 0h1m73 0h1M287 363.5h1M233 364.5h1m52 0h1M291 365.5h1m3 0h1M281 366.5h1M233 367.5h1m48 0h1M281 368.5h2M281 369.5h1m26 0h1M279 370.5h1m1 0h1m7 0h1m14 0h1M278 371.5h2m18 0h1M282 372.5h1m5 0h1M278 373.5h1M277 374.5h1m1 0h1m27 0h1M282 375.5h1m13 0h1m14 0h1M275 376.5h2m3 0h1m7 0h1m13 0h1m1 0h1M276 377.5h1m13 0h1m14 0h1M275 378.5h2m7 0h1m2 0h1M275 379.5h1m4 0h1m6 0h1m5 0h1M276 380.5h1M281 381.5h1M275 382.5h1m22 0h1m6 0h1M274 383.5h1M279 384.5h1m19 0h1m2 0h1M279 385.5h1M275 386.5h1m20 0h1m9 0h1M274 388.5h1m9 0h1m4 0h1m4 0h1M272 389.5h1m6 0h1M277 390.5h2M273 391.5h1m1 0h1M277 392.5h1M275 393.5h1M288 394.5h1m17 0h1M271 395.5h1m1 0h1m4 0h1m1 0h2M288 396.5h1m9 0h1M293 397.5h1M270 398.5h1m39 0h1M273 399.5h2M273 400.5h1m5 0h1m6 0h1m16 0h1M274 401.5h2m1 0h1M277 402.5h1m22 0h1M275 403.5h2m4 0h2m18 0h1M273 404.5h1m2 0h1M271 407.5h1m10 0h1M277 408.5h1M288 409.5h1M268 410.5h1m1 0h1m18 0h1m3 0h1m4 0h1M270 411.5h1m1 0h1M276 412.5h1m33 0h1M273 414.5h1m31 0h1" stroke="#ec5e58" stroke-opacity="0.8" fill="none"/><path d="M230 313.5h4m25 0h3m3 0h4m2 0h5m1 0h3m1 0h4M233 314.5h1m2 0h1m1 0h1m1 0h2m3 0h2m2 0h1m1 0h3m3 0h5m4 0h1m5 0h1m2 0h2m1 0h5M231 315.5h1m23 0h1m17 0h1m1 0h3M275 316.5h1m3 0h1M275 317.5h1M274 318.5h1m3 0h1M276 319.5h3m24 0h1m1 0h1M276 320.5h2m26 0h2M272 321.5h1m1 0h3m25 0h3M270 322.5h2m1 0h2M268 323.5h2m4 0h1m25 0h2m1 0h1M270 324.5h1m1 0h1M268 325.5h1m2 0h2m26 0h2m1 0h1M272 326.5h1m26 0h1M268 327.5h3m28 0h2M268 328.5h1m29 0h1m1 0h1M265 329.5h2M297 330.5h1M262 331.5h1m1 0h1m30 0h2m1 0h1M261 332.5h3m31 0h1M294 333.5h3M261 334.5h1m1 0h1m31 0h1m1 0h1M217 335.5h2m42 0h2m32 0h1m1 0h1M218 336.5h2m40 0h1m32 0h1M218 337.5h1m1 0h1m40 0h1m31 0h1M210 338.5h1m2 0h1m1 0h1m1 0h1m43 0h1m30 0h1M208 339.5h1m5 0h4m39 0h1m3 0h1m30 0h2M207 340.5h2m2 0h2m2 0h1m1 0h1m1 0h1m2 0h1m31 0h1m1 0h5m31 0h2M205 341.5h1m1 0h1m1 0h5m1 0h1m1 0h2m1 0h1m1 0h1m35 0h2m31 0h2m1 0h1M206 342.5h1m2 0h1m6 0h2m2 0h1m15 0h1m16 0h1m1 0h4m31 0h2m1 0h1m1 0h1M205 343.5h1m1 0h2m1 0h1m5 0h2m2 0h1m2 0h1m13 0h1m16 0h1m3 0h1m30 0h2m1 0h1m1 0h2M207 344.5h3m8 0h4m2 0h2m9 0h1m1 0h1m11 0h1m3 0h1m1 0h1m1 0h2m30 0h1m3 0h1M204 345.5h1m1 0h1m10 0h1m1 0h2m1 0h1m26 0h2m4 0h1m32 0h1m2 0h2M205 346.5h4m10 0h5m2 0h1m7 0h3m14 0h1m3 0h3m30 0h1m1 0h1M207 347.5h1m13 0h1m1 0h2m2 0h2m6 0h2m15 0h1m3 0h1m31 0h1M207 348.5h1m12 0h2m3 0h1m2 0h1m22 0h1m1 0h1m1 0h2m31 0h1M204 349.5h2m1 0h1m12 0h1m1 0h1m3 0h1m25 0h1m1 0h2m31 0h4M205 350.5h4m15 0h4m1 0h1m12 0h1m10 0h2m32 0h1M204 351.5h1m3 0h1m11 0h1m3 0h1m4 0h1m1 0h1m10 0h1m9 0h1m1 0h1m31 0h1m2 0h1M203 352.5h1m2 0h2m1 0h1m11 0h1m1 0h2m2 0h1m1 0h1m1 0h1m11 0h2m9 0h1m31 0h2M204 353.5h1m2 0h1m18 0h1m1 0h3m11 0h2m9 0h1m31 0h2M202 354.5h1m1 0h2m1 0h2m13 0h1m1 0h2m23 0h1m1 0h2m31 0h1m1 0h1M202 355.5h1m2 0h3m16 0h2m1 0h1m23 0h2m31 0h2m1 0h1M205 356.5h1m1 0h1m15 0h1m1 0h1m1 0h1m21 0h2m33 0h1m1 0h2M204 357.5h1m42 0h1m1 0h3m29 0h3M204 358.5h2m18 0h1m2 0h1m51 0h2M202 359.5h1m1 0h1m1 0h1m16 0h1m4 0h1m50 0h1M203 360.5h2m18 0h3m2 0h1m14 0h2m3 0h2m28 0h1m1 0h1m1 0h2M202 361.5h2m1 0h1m18 0h1m2 0h1m13 0h1m4 0h1m31 0h1m3 0h1M201 362.5h4m19 0h1m13 0h2m2 0h3m1 0h3m30 0h2M201 363.5h1m1 0h1m20 0h3m11 0h3m3 0h2m31 0h3M201 364.5h1m26 0h1m2 0h1m5 0h4m3 0h1m2 0h1m28 0h1M201 365.5h2m22 0h2m2 0h1m1 0h1m5 0h2m2 0h1m2 0h1m31 0h1M201 366.5h2m22 0h1m1 0h1m3 0h1m3 0h2m3 0h1m3 0h2m31 0h2M202 367.5h1m22 0h3m12 0h1m4 0h1m29 0h2m2 0h1M201 368.5h1m23 0h1m9 0h2m2 0h1m3 0h2m30 0h3M201 369.5h1m23 0h1m2 0h2m6 0h1m6 0h1m1 0h1M226 370.5h1m3 0h1m3 0h1m1 0h1m1 0h1m1 0h3m33 0h1M201 371.5h1m24 0h1m2 0h1m6 0h1m2 0h2m3 0h1m29 0h2M201 372.5h1m24 0h1m1 0h4m4 0h3m2 0h1m29 0h1m2 0h2M201 373.5h1m22 0h2m5 0h2m2 0h1m1 0h1m1 0h2M201 374.5h2m21 0h1m1 0h2m1 0h1m2 0h2m3 0h1m3 0h1m28 0h1m3 0h1M201 375.5h1m26 0h1m1 0h1m2 0h1m5 0h3M226 376.5h3m1 0h1m3 0h1m3 0h1m1 0h1m33 0h1M201 377.5h1m23 0h2m7 0h2m1 0h1m1 0h1m30 0h1m1 0h2M201 378.5h1m31 0h1m3 0h1m33 0h1M201 379.5h1m25 0h1m2 0h1m1 0h1m1 0h1m1 0h3m30 0h1m1 0h1M201 380.5h2m23 0h4m1 0h2m2 0h2m32 0h1M202 381.5h1m24 0h1m1 0h3m1 0h1m1 0h2m31 0h3M202 382.5h1m26 0h1m1 0h3m34 0h4M201 383.5h1m28 0h3m36 0h2M201 384.5h1m31 0h1m33 0h1M201 385.5h1m28 0h1m1 0h2m34 0h1M201 386.5h2m28 0h1m1 0h1m33 0h2m1 0h1M201 387.5h1m67 0h2M201 388.5h1m63 0h1m4 0h1M201 389.5h1m1 0h1m64 0h1m1 0h2M266 390.5h2m1 0h1M201 391.5h2m62 0h1m1 0h1m2 0h1M201 392.5h2m62 0h2m2 0h1M201 393.5h2m62 0h4M202 394.5h1m62 0h2m1 0h1M265 395.5h2M201 396.5h2m62 0h1m1 0h1M201 397.5h1m62 0h3m1 0h1M264 398.5h2m2 0h1M201 399.5h1m61 0h2m5 0h2M201 400.5h1m61 0h1m6 0h1M201 401.5h1m61 0h1m3 0h1m1 0h1M201 402.5h1m61 0h3m3 0h1m1 0h2m1 0h1M201 403.5h1m61 0h2m2 0h2m43 0h1M201 404.5h1m61 0h2m2 0h1m2 0h1M201 405.5h1m59 0h4m1 0h1m2 0h1M201 406.5h2m57 0h2m2 0h2m1 0h1m1 0h1M201 407.5h2m55 0h3m2 0h3m1 0h1m1 0h1M201 408.5h1m55 0h4m2 0h2m2 0h1M201 409.5h2m53 0h1m1 0h2m6 0h1M201 410.5h2m26 0h2m1 0h2m23 0h1m2 0h1m1 0h1m4 0h1M202 411.5h1m27 0h4m19 0h3m1 0h1m2 0h2m1 0h1m1 0h1M201 412.5h2m26 0h2m3 0h1m19 0h2m2 0h2m4 0h1m28 0h1M202 413.5h1m29 0h1m25 0h2m2 0h1m2 0h1m1 0h1M201 414.5h1m62 0h1m1 0h1m1 0h1M201 415.5h3m56 0h2m1 0h2m2 0h1m2 0h2m2 0h1m1 0h1m4 0h1m1 0h1" stroke="#f03a30" stroke-opacity="0.9" fill="none"/><path d="M212 313.5h8m1 0h8m5 0h1m1 0h1m1 0h1m2 0h2m1 0h5m1 0h5m2 0h1m28 0h16M214 314.5h1m1 0h5m1 0h1m1 0h1m2 0h1m60 0h2m1 0h4m1 0h5m1 0h1M281 315.5h3m4 0h15M281 316.5h1m2 0h2m2 0h4m1 0h11M280 317.5h8m2 0h14M280 318.5h4m1 0h3m1 0h7m1 0h2m1 0h4M281 319.5h19m1 0h2M279 320.5h10m1 0h10m1 0h2M277 321.5h2m1 0h21M276 322.5h1m1 0h1m1 0h18m1 0h2M275 323.5h6m1 0h9m1 0h8M274 324.5h23m2 0h1M275 325.5h1m1 0h13m1 0h7M273 326.5h25M273 327.5h3m1 0h1m1 0h15m1 0h4M270 328.5h4m1 0h18m1 0h1m1 0h2M267 329.5h2m1 0h5m2 0h12m1 0h5m1 0h1M266 330.5h6m1 0h20m2 0h1M265 331.5h7m1 0h5m1 0h16M265 332.5h1m1 0h13m1 0h9m1 0h4M264 333.5h4m1 0h1m1 0h21m1 0h1M264 334.5h5m2 0h18m1 0h4M264 335.5h25m1 0h3M263 336.5h4m1 0h20m1 0h3M263 337.5h28m1 0h1M264 338.5h23m1 0h3M263 339.5h20m1 0h3m1 0h4M262 340.5h11m1 0h10m1 0h6M260 341.5h2m1 0h4m2 0h19M212 342.5h3m45 0h1m2 0h27M211 343.5h5m43 0h3m2 0h22m1 0h1M210 344.5h3m1 0h2m44 0h24m1 0h4M212 345.5h5m42 0h12m1 0h10m1 0h2m2 0h1M209 346.5h5m1 0h1m43 0h20m1 0h3m1 0h4M208 347.5h11m40 0h28M208 348.5h3m2 0h5m40 0h2m1 0h2m1 0h15m1 0h3m1 0h3M208 349.5h11m37 0h4m3 0h16m1 0h1m1 0h5M209 350.5h1m1 0h9m35 0h16m1 0h8m2 0h1m1 0h2M210 351.5h2m1 0h3m1 0h1m1 0h1m35 0h2m3 0h25M211 352.5h4m1 0h2m1 0h1m35 0h2m2 0h25M210 353.5h9m2 0h1m33 0h24m1 0h4M209 354.5h13m32 0h1m2 0h1m1 0h20m1 0h3M208 355.5h4m2 0h9m30 0h6m2 0h23M208 356.5h2m1 0h2m1 0h3m1 0h3m1 0h1m30 0h18m1 0h7m1 0h3M208 357.5h6m1 0h2m1 0h5m29 0h26M207 358.5h6m1 0h8m29 0h1m1 0h1m2 0h19m1 0h3M207 359.5h16m27 0h28M206 360.5h4m1 0h5m1 0h5m28 0h2m1 0h2m1 0h22M207 361.5h15m27 0h1m1 0h4m1 0h18m1 0h3M206 362.5h8m1 0h6m28 0h24m1 0h1m1 0h1M204 363.5h1m1 0h1m1 0h15m26 0h1m1 0h9m1 0h16M204 364.5h14m1 0h5m25 0h3m1 0h23M204 365.5h1m1 0h14m1 0h3m23 0h1m1 0h3m1 0h14m1 0h8M204 366.5h5m1 0h9m1 0h2m1 0h1m23 0h3m1 0h1m1 0h2m1 0h19M203 367.5h5m1 0h16m22 0h28M205 368.5h15m1 0h3m23 0h2m1 0h5m1 0h19M203 369.5h2m1 0h1m1 0h12m1 0h3m22 0h17m1 0h9M203 370.5h4m1 0h10m1 0h6m20 0h1m1 0h15m1 0h11M204 371.5h17m1 0h3m20 0h1m1 0h22m1 0h1M203 372.5h1m1 0h20m19 0h14m1 0h9M203 373.5h1m1 0h1m1 0h15m1 0h1m20 0h2m1 0h5m1 0h18M205 374.5h19m19 0h12m2 0h6m2 0h5M203 375.5h18m2 0h1m19 0h2m1 0h24M203 376.5h5m1 0h11m1 0h3m17 0h2m1 0h26M203 377.5h22m17 0h17m1 0h5m1 0h3M202 378.5h2m1 0h20m15 0h3m2 0h3m1 0h2m1 0h10m1 0h2m1 0h2M202 379.5h24m15 0h27M204 380.5h21m14 0h1m1 0h24m2 0h1M203 381.5h3m1 0h2m2 0h11m1 0h3m14 0h4m2 0h18m1 0h1m1 0h1M204 382.5h10m1 0h7m1 0h4m1 0h1m7 0h2m1 0h27M203 383.5h21m1 0h5m7 0h25m1 0h3M204 384.5h24m7 0h1m1 0h30M203 385.5h21m1 0h5m5 0h2m1 0h28M203 386.5h19m2 0h5m5 0h2m1 0h28M205 387.5h11m1 0h8m3 0h6m1 0h29m1 0h1M204 388.5h11m3 0h9m1 0h5m1 0h29m1 0h1M205 389.5h8m6 0h8m1 0h36M204 390.5h1m1 0h6m7 0h6m1 0h8m1 0h17m1 0h11M204 391.5h7m9 0h6m2 0h1m1 0h3m1 0h2m2 0h21m1 0h4M203 392.5h7m11 0h6m1 0h1m2 0h31M203 393.5h1m1 0h5m11 0h2m1 0h2m2 0h5m1 0h9m1 0h16m2 0h3M203 394.5h7m11 0h7m1 0h1m1 0h1m1 0h16m1 0h3m1 0h10M205 395.5h5m11 0h3m1 0h4m1 0h1m1 0h22m1 0h7m1 0h1M203 396.5h1m2 0h4m12 0h32m5 0h1m1 0h2M204 397.5h6m12 0h4m1 0h6m1 0h17m1 0h2m1 0h4m1 0h3M203 398.5h7m12 0h28m1 0h3m1 0h3m3 0h3M204 399.5h6m11 0h33m1 0h2m1 0h1m1 0h1m1 0h1M202 400.5h3m1 0h4m11 0h8m1 0h5m1 0h27M202 401.5h4m1 0h3m10 0h19m1 0h18m1 0h2m1 0h1M202 402.5h2m1 0h5m10 0h16m1 0h3m1 0h11m1 0h4m1 0h5M203 403.5h7m10 0h7m1 0h7m1 0h9m1 0h13m1 0h3M204 404.5h1m1 0h4m10 0h5m1 0h2m2 0h9m1 0h15m1 0h1m1 0h1m2 0h2M204 405.5h6m9 0h37m2 0h2M203 406.5h7m9 0h9m1 0h6m1 0h13m1 0h7M204 407.5h7m7 0h6m1 0h3m1 0h8m1 0h2m1 0h5m1 0h1m1 0h1m1 0h6M205 408.5h1m1 0h4m6 0h10m4 0h6m2 0h13m2 0h3M203 409.5h9m4 0h13m1 0h4m1 0h6m1 0h1m1 0h7m1 0h3M203 410.5h1m1 0h24m7 0h9m1 0h7M203 411.5h1m1 0h23m6 0h5m1 0h2m2 0h2m2 0h4M203 412.5h2m1 0h6m1 0h1m2 0h12m8 0h1m1 0h4m1 0h4m2 0h1m1 0h1m1 0h1M203 413.5h2m2 0h6m5 0h7m2 0h3m4 0h1m1 0h2m2 0h1m1 0h2m1 0h4m1 0h4M205 414.5h7m7 0h3m2 0h4m1 0h1m6 0h2m1 0h2m3 0h5m1 0h1m2 0h3m1 0h1M204 415.5h9m6 0h40m30 0h1" stroke="#f61c0c" stroke-opacity="1.0" fill="none"/><path d="M216 387.5h1M215 388.5h3M213 389.5h6M212 390.5h7M211 391.5h9M210 392.5h11M210 393.5h11M210 394.5h4m3 0h4M210 395.5h4m4 0h3M210 396.5h3m6 0h3M210 397.5h3m5 0h4M210 398.5h4m3 0h5M210 399.5h4m3 0h4M210 400.5h4m3 0h4M210 401.5h4m2 0h4M210 402.5h10M210 403.5h10M210 404.5h10M210 405.5h9M210 406.5h9M211 407.5h7M211 408.5h6M212 409.5h4M214 412.5h2M213 413.5h5M212 414.5h7M213 415.5h6" stroke="#ff3212" stroke-opacity="1.0" fill="none"/><path d="M214 394.5h3M214 395.5h4M213 396.5h6M213 397.5h5M214 398.5h3M214 399.5h3M214 400.5h3M214 401.5h2" stroke="#ff5a1c" stroke-opacity="1.0" fill="none"/></g><path d="M228.5 312.6V417.0M200.8 381.3H313.3" stroke="#333" stroke-width="1" fill="none"/><rect x="200.8" y="312.6" width="112.5" height="104.4" fill="none" stroke="#555" stroke-width="1.2"/><g font-size="4.2" fill="#555"><text x="203.8" y="318.6">R2</text><text x="258.8" y="318.6">R2</text><text x="212.8" y="407.0">R4</text><text x="267.8" y="407.0">R3</text></g><g font-size="4.4" fill="#333" font-weight="bold"><text x="197.8" y="423.6">10<tspan dy="-1.6" font-size="2.9">0</tspan></text><text x="193.5" y="418.8">10<tspan dy="-1.6" font-size="2.9">0</tspan></text><line x1="200.8" y1="417.0" x2="200.8" y2="418.5" stroke="#555" stroke-width="0.6"/><line x1="199.3" y1="417.0" x2="200.8" y2="417.0" stroke="#555" stroke-width="0.6"/><text x="225.9" y="423.6">10<tspan dy="-1.6" font-size="2.9">1</tspan></text><text x="193.5" y="392.7">10<tspan dy="-1.6" font-size="2.9">1</tspan></text><line x1="228.9" y1="417.0" x2="228.9" y2="418.5" stroke="#555" stroke-width="0.6"/><line x1="199.3" y1="390.9" x2="200.8" y2="390.9" stroke="#555" stroke-width="0.6"/><text x="254.1" y="423.6">10<tspan dy="-1.6" font-size="2.9">2</tspan></text><text x="193.5" y="366.6">10<tspan dy="-1.6" font-size="2.9">2</tspan></text><line x1="257.1" y1="417.0" x2="257.1" y2="418.5" stroke="#555" stroke-width="0.6"/><line x1="199.3" y1="364.8" x2="200.8" y2="364.8" stroke="#555" stroke-width="0.6"/><text x="282.2" y="423.6">10<tspan dy="-1.6" font-size="2.9">3</tspan></text><text x="193.5" y="340.5">10<tspan dy="-1.6" font-size="2.9">3</tspan></text><line x1="285.2" y1="417.0" x2="285.2" y2="418.5" stroke="#555" stroke-width="0.6"/><line x1="199.3" y1="338.7" x2="200.8" y2="338.7" stroke="#555" stroke-width="0.6"/><text x="310.3" y="423.6">10<tspan dy="-1.6" font-size="2.9">4</tspan></text><text x="193.5" y="314.4">10<tspan dy="-1.6" font-size="2.9">4</tspan></text><line x1="313.3" y1="417.0" x2="313.3" y2="418.5" stroke="#555" stroke-width="0.6"/><line x1="199.3" y1="312.6" x2="200.8" y2="312.6" stroke="#555" stroke-width="0.6"/></g><text x="257.1" y="427.6" font-size="4.6" font-weight="bold" fill="#2a2a2a" text-anchor="middle" textLength="20" lengthAdjust="spacingAndGlyphs">eGFP Log</text><path d="M29.9 278.5V189.6" stroke="#111" stroke-width="1.2"/><path d="M27.299999999999997 190.6L29.9 185.6L32.5 190.6Z" fill="#111"/><path d="M181.5 280.5V192" stroke="#111" stroke-width="1.2"/><path d="M178.9 193L181.5 188L184.1 193Z" fill="#111"/><path d="M29.5 414.5V326.7" stroke="#111" stroke-width="1.2"/><path d="M26.9 327.7L29.5 322.7L32.1 327.7Z" fill="#111"/><path d="M183 418V331" stroke="#111" stroke-width="1.2"/><path d="M180.4 332L183 327L185.6 332Z" fill="#111"/><text transform="translate(36.3 235) rotate(-90)" font-size="4.3" font-weight="bold" fill="#2a2a2a" text-anchor="middle" textLength="78" lengthAdjust="spacingAndGlyphs">QBEnd10 Biotin Streptavidin APC Log</text><text transform="translate(188.3 237) rotate(-90)" font-size="4.3" font-weight="bold" fill="#2a2a2a" text-anchor="middle" textLength="78" lengthAdjust="spacingAndGlyphs">Rituximab PE Log Intensity</text><text transform="translate(36.0 365) rotate(-90)" font-size="4.3" font-weight="bold" fill="#2a2a2a" text-anchor="middle" textLength="78" lengthAdjust="spacingAndGlyphs">QBEnd10 Biotin Streptavidin APC Log</text><text transform="translate(189.5 370) rotate(-90)" font-size="4.3" font-weight="bold" fill="#2a2a2a" text-anchor="middle" textLength="78" lengthAdjust="spacingAndGlyphs">Rituximab PE Log Intensity</text><text x="1.2" y="183.2" font-size="13.7" font-weight="bold" textLength="8" lengthAdjust="spacingAndGlyphs">B</text><text class="sr" transform="translate(26.3 270.3) rotate(-90)" font-size="16" font-weight="bold" textLength="67.4">QBEnd10</text><text class="sr" transform="translate(176.8 272) rotate(-90)" font-size="16" font-weight="bold" textLength="71">Rituximab</text><text class="sr" transform="translate(25.3 398.8) rotate(-90)" font-size="14" textLength="55.4">QBEnd10</text><text class="sr" transform="translate(176.5 399.5) rotate(-90)" font-size="14" textLength="56.5">Rituximab</text><text class="sr" x="2.3" y="294.3" font-size="13.5" textLength="26.5">QR8</text><text class="sr" x="2.3" y="320.4" font-size="13.5" textLength="25.4">RQ8</text><path d="M9 303.6H329.5" stroke="#111" stroke-width="2" stroke-dasharray="6.2 2.6"/><path d="M36 429.3H314" stroke="#111" stroke-width="1.2"/><path d="M313 426.6L318.8 429.3L313 432Z" fill="#111"/><text class="sr" x="157.3" y="440.4" font-size="14" textLength="32.7">eGFP</text><path d="M61.2 635.8V636.8M56.5 636.8H66.0" stroke="#111" stroke-width="1.5" fill="none"/><rect x="50.0" y="632.7" width="22.5" height="3.1" fill="url(#pQ8)" stroke="#111" stroke-width="1.5"/><path d="M93.7 585.4V580.2M88.9 580.2H98.5" stroke="#111" stroke-width="1.5" fill="none"/><rect x="82.4" y="585.4" width="22.5" height="47.3" fill="url(#pPU)" stroke="#111" stroke-width="1.5"/><path d="M125.8 576.7V573.3M121.0 573.3H130.7" stroke="#111" stroke-width="1.5" fill="none"/><rect x="114.6" y="576.7" width="22.5" height="56.0" fill="url(#pRQ)" stroke="#111" stroke-width="1.5"/><path d="M158.1 543.9V532.5M153.2 532.5H162.9" stroke="#111" stroke-width="1.5" fill="none"/><rect x="146.8" y="543.9" width="22.5" height="88.8" fill="url(#pRR)" stroke="#111" stroke-width="1.5"/><path d="M190.2 516.2V508.9M185.3 508.9H195.0" stroke="#111" stroke-width="1.5" fill="none"/><rect x="178.9" y="516.2" width="22.5" height="116.5" fill="url(#pGR)" stroke="#111" stroke-width="1.5"/><path d="M222.2 518.1V513.0M217.4 513.0H227.1" stroke="#111" stroke-width="1.5" fill="none"/><rect x="211.0" y="518.1" width="22.5" height="114.6" fill="url(#pYE)" stroke="#111" stroke-width="1.5"/><path d="M45 475.5V664.2" stroke="#222" stroke-width="1.3" fill="none"/><path d="M45 632.7H238.4M141.8 632.7v2.8" stroke="#222" stroke-width="1.3" fill="none"/><path d="M40.7 475.5H45" stroke="#222" stroke-width="1.2"/><text x="39.4" y="478.4" font-size="8.9" font-weight="bold" text-anchor="end" textLength="13.0" lengthAdjust="spacingAndGlyphs">100</text><path d="M40.7 506.9H45" stroke="#222" stroke-width="1.2"/><text x="39.4" y="509.8" font-size="8.9" font-weight="bold" text-anchor="end" textLength="8.7" lengthAdjust="spacingAndGlyphs">80</text><path d="M40.7 538.4H45" stroke="#222" stroke-width="1.2"/><text x="39.4" y="541.2" font-size="8.9" font-weight="bold" text-anchor="end" textLength="8.7" lengthAdjust="spacingAndGlyphs">60</text><path d="M40.7 569.8H45" stroke="#222" stroke-width="1.2"/><text x="39.4" y="572.7" font-size="8.9" font-weight="bold" text-anchor="end" textLength="8.7" lengthAdjust="spacingAndGlyphs">40</text><path d="M40.7 601.2H45" stroke="#222" stroke-width="1.2"/><text x="39.4" y="604.1" font-size="8.9" font-weight="bold" text-anchor="end" textLength="8.7" lengthAdjust="spacingAndGlyphs">20</text><path d="M40.7 632.7H45" stroke="#222" stroke-width="1.2"/><text x="39.4" y="635.6" font-size="8.9" font-weight="bold" text-anchor="end" textLength="4.3" lengthAdjust="spacingAndGlyphs">0</text><path d="M40.7 664.2H45" stroke="#222" stroke-width="1.2"/><text x="39.4" y="667.1" font-size="8.9" font-weight="bold" text-anchor="end" textLength="12.1" lengthAdjust="spacingAndGlyphs">-20</text><path d="M293.0 644.9V655.2M288.2 655.2H297.8" stroke="#111" stroke-width="1.5" fill="none"/><rect x="283.6" y="634.2" width="18.8" height="10.7" fill="url(#pQ8)" stroke="#111" stroke-width="1.5"/><path d="M320.6 604.5V598.7M315.8 598.7H325.4" stroke="#111" stroke-width="1.5" fill="none"/><rect x="311.2" y="604.5" width="18.8" height="29.7" fill="url(#pPU)" stroke="#111" stroke-width="1.5"/><path d="M348.3 534.1V519.2M343.5 519.2H353.1" stroke="#111" stroke-width="1.5" fill="none"/><rect x="338.9" y="534.1" width="18.8" height="100.1" fill="url(#pRQ)" stroke="#111" stroke-width="1.5"/><path d="M375.4 573.5V564.4M370.6 564.4H380.2" stroke="#111" stroke-width="1.5" fill="none"/><rect x="366.0" y="573.5" width="18.8" height="60.7" fill="url(#pRR)" stroke="#111" stroke-width="1.5"/><path d="M402.8 527.3V510.5M398.0 510.5H407.6" stroke="#111" stroke-width="1.5" fill="none"/><rect x="393.4" y="527.3" width="18.8" height="106.9" fill="url(#pGR)" stroke="#111" stroke-width="1.5"/><path d="M430.4 538.6V516.6M425.6 516.6H435.2" stroke="#111" stroke-width="1.5" fill="none"/><rect x="421.0" y="538.6" width="18.8" height="95.6" fill="url(#pYE)" stroke="#111" stroke-width="1.5"/><path d="M279 472.7V666.5" stroke="#222" stroke-width="1.3" fill="none"/><path d="M279 634.2H472M375.9 634.2v2.8" stroke="#222" stroke-width="1.3" fill="none"/><path d="M275.2 472.7H279" stroke="#222" stroke-width="1.2"/><text x="273.4" y="476.2" font-size="10" font-weight="bold" text-anchor="end" textLength="9.6" lengthAdjust="spacingAndGlyphs">50</text><path d="M275.2 505.0H279" stroke="#222" stroke-width="1.2"/><text x="273.4" y="508.5" font-size="10" font-weight="bold" text-anchor="end" textLength="9.6" lengthAdjust="spacingAndGlyphs">40</text><path d="M275.2 537.3H279" stroke="#222" stroke-width="1.2"/><text x="273.4" y="540.8" font-size="10" font-weight="bold" text-anchor="end" textLength="9.6" lengthAdjust="spacingAndGlyphs">30</text><path d="M275.2 569.6H279" stroke="#222" stroke-width="1.2"/><text x="273.4" y="573.1" font-size="10" font-weight="bold" text-anchor="end" textLength="9.6" lengthAdjust="spacingAndGlyphs">20</text><path d="M275.2 601.9H279" stroke="#222" stroke-width="1.2"/><text x="273.4" y="605.4" font-size="10" font-weight="bold" text-anchor="end" textLength="9.6" lengthAdjust="spacingAndGlyphs">10</text><path d="M275.2 634.2H279" stroke="#222" stroke-width="1.2"/><text x="273.4" y="637.7" font-size="10" font-weight="bold" text-anchor="end" textLength="4.8" lengthAdjust="spacingAndGlyphs">0</text><path d="M275.2 666.5H279" stroke="#222" stroke-width="1.2"/><text x="273.4" y="670.0" font-size="10" font-weight="bold" text-anchor="end" textLength="13.5" lengthAdjust="spacingAndGlyphs">-10</text><text x="0.9" y="456" font-size="13.3" font-weight="bold" textLength="8.6" lengthAdjust="spacingAndGlyphs">C</text><text x="244.9" y="455.8" font-size="12.6" font-weight="bold" textLength="9" lengthAdjust="spacingAndGlyphs">D</text><text x="90.6" y="460.8" font-size="10.8" font-weight="bold" textLength="81.7" lengthAdjust="spacingAndGlyphs">CDC sensitivity</text><text x="316.8" y="456.8" font-size="11" font-weight="bold" textLength="98.3" lengthAdjust="spacingAndGlyphs">ADCC sensitivity</text><text transform="translate(20.7 590.4) rotate(-90)" font-size="10" font-weight="bold" textLength="41.9" lengthAdjust="spacingAndGlyphs">% killing</text><text transform="translate(254.5 591.3) rotate(-90)" font-size="10.5" font-weight="bold" textLength="44.2" lengthAdjust="spacingAndGlyphs">% killing</text><text x="101.9" y="658.8" font-size="9.6" font-weight="bold" textLength="77.4" lengthAdjust="spacingAndGlyphs">Target construct</text><text x="320.3" y="668.8" font-size="10.2" font-weight="bold" textLength="99.8" lengthAdjust="spacingAndGlyphs">Effector:target ratio</text><text transform="translate(368.8 656.6) rotate(-52)" font-size="9.6" font-weight="bold">8:1</text><rect x="426.2" y="390.8" width="17.2" height="9.2" rx="1.5" fill="url(#pQ8)" stroke="#111" stroke-width="1.6"/><text x="451.5" y="399.2" font-size="11.9">Q8</text><rect x="426.2" y="407.8" width="17.2" height="9.2" rx="1.5" fill="url(#pPU)" stroke="#111" stroke-width="1.6"/><text x="451.5" y="416.2" font-size="11.9">R-HCH2CH3</text><rect x="426.2" y="424.8" width="17.2" height="9.2" rx="1.5" fill="url(#pRQ)" stroke="#111" stroke-width="1.6"/><text x="451.5" y="433.2" font-size="11.9">RQ8</text><rect x="426.2" y="441.8" width="17.2" height="9.2" rx="1.5" fill="url(#pRR)" stroke="#111" stroke-width="1.6"/><text x="451.5" y="450.2" font-size="11.9">RRQ8</text><rect x="426.2" y="458.8" width="17.2" height="9.2" rx="1.5" fill="url(#pGR)" stroke="#111" stroke-width="1.6"/><text x="451.5" y="467.2" font-size="11.9">RQR8</text><rect x="426.2" y="475.8" width="17.2" height="9.2" rx="1.5" fill="url(#pYL)" stroke="#111" stroke-width="1.6"/><text x="451.5" y="484.2" font-size="11.9">CD20</text>
</svg>
</body></html>
